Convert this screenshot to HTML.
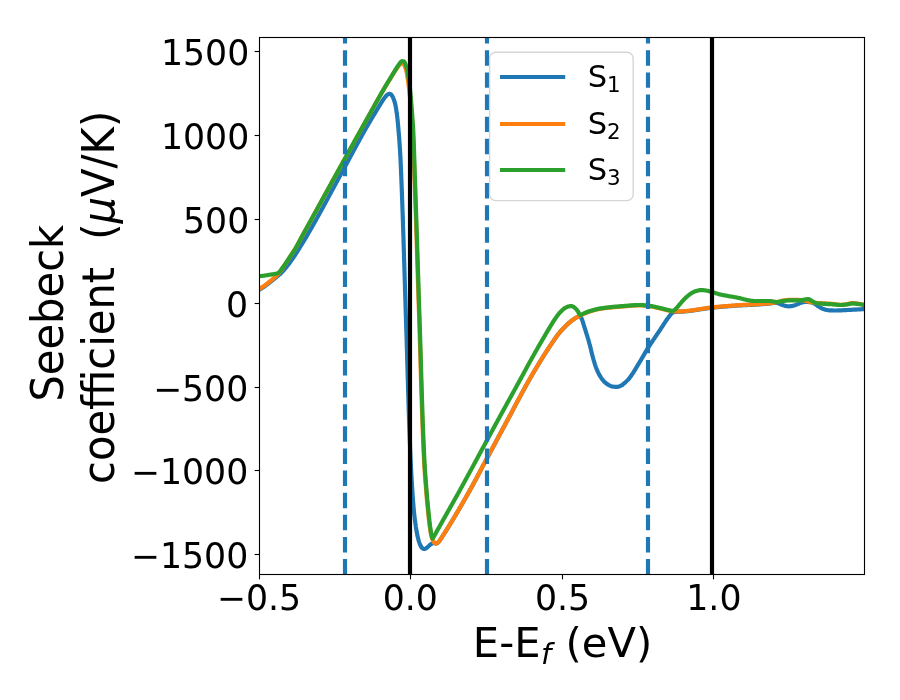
<!DOCTYPE html>
<html lang="en"><head><meta charset="utf-8"><title>Seebeck coefficient</title>
<style>html,body{margin:0;padding:0;background:#fff;overflow:hidden}svg{display:block}text{font-family:"DejaVu Sans","Liberation Sans",sans-serif;fill:#000}.t25{font-size:34.722px}.t30{font-size:41.667px}.t22{font-size:30.556px}.t21{font-size:29.167px;font-style:oblique}.t15{font-size:21.389px}.ob{font-style:oblique}</style></head><body>
<svg width="900" height="700" viewBox="0 0 900 700">
<rect width="900" height="700" fill="#fff"/>
<defs><clipPath id="ax"><rect x="259.5" y="37.5" width="605.0" height="537.0"/></clipPath></defs>
<g clip-path="url(#ax)" fill="none" stroke-width="4.167" stroke-linejoin="round" stroke-linecap="square">
<path d="M258.0 290.5 L258.6 290.1 L259.2 289.8 L259.8 289.4 L260.4 289.0 L261.0 288.7 L261.6 288.3 L262.2 287.9 L262.8 287.5 L263.3 287.1 L263.9 286.8 L264.5 286.4 L265.1 286.0 L265.6 285.5 L266.2 285.1 L266.8 284.7 L267.3 284.3 L267.9 283.9 L268.4 283.4 L269.0 283.0 L269.5 282.6 L270.1 282.1 L270.6 281.7 L271.2 281.3 L271.7 280.8 L272.3 280.4 L272.8 280.0 L273.4 279.5 L273.9 279.1 L274.5 278.6 L275.0 278.2 L275.5 277.8 L276.1 277.3 L276.6 276.9 L277.2 276.4 L277.7 276.0 L278.3 275.6 L278.8 275.1 L279.3 274.6 L279.9 274.2 L280.4 273.7 L280.9 273.2 L281.4 272.7 L281.9 272.2 L282.3 271.7 L282.8 271.2 L283.3 270.7 L283.8 270.2 L284.2 269.6 L284.7 269.1 L285.1 268.6 L285.6 268.0 L286.0 267.5 L286.5 267.0 L286.9 266.4 L287.4 265.9 L287.8 265.3 L288.2 264.8 L288.6 264.2 L289.1 263.6 L289.5 263.1 L289.9 262.5 L290.3 262.0 L290.7 261.4 L291.1 260.8 L291.5 260.2 L291.9 259.7 L292.3 259.1 L292.7 258.5 L293.1 257.9 L293.5 257.4 L293.9 256.8 L294.3 256.2 L294.7 255.6 L295.1 255.0 L295.5 254.4 L295.8 253.9 L296.2 253.3 L296.6 252.7 L297.0 252.1 L297.3 251.5 L297.7 250.9 L298.1 250.3 L298.5 249.7 L298.8 249.1 L299.2 248.5 L299.6 247.9 L299.9 247.3 L300.3 246.7 L300.7 246.1 L301.0 245.5 L301.4 244.9 L301.8 244.4 L302.1 243.8 L302.5 243.2 L302.9 242.6 L303.2 242.0 L303.6 241.4 L304.0 240.8 L304.3 240.2 L304.7 239.6 L305.0 239.0 L305.4 238.4 L305.8 237.8 L306.1 237.2 L306.5 236.6 L306.8 236.0 L307.2 235.4 L307.5 234.8 L307.9 234.1 L308.2 233.5 L308.6 232.9 L308.9 232.3 L309.3 231.7 L309.6 231.1 L310.0 230.5 L310.3 229.9 L310.7 229.3 L311.0 228.7 L311.4 228.1 L311.7 227.5 L312.1 226.9 L312.4 226.3 L312.8 225.6 L313.1 225.0 L313.5 224.4 L313.8 223.8 L314.1 223.2 L314.5 222.6 L314.8 222.0 L315.2 221.4 L315.5 220.8 L315.9 220.2 L316.2 219.5 L316.5 218.9 L316.9 218.3 L317.2 217.7 L317.6 217.1 L317.9 216.5 L318.2 215.9 L318.6 215.3 L318.9 214.6 L319.3 214.0 L319.6 213.4 L319.9 212.8 L320.3 212.2 L320.6 211.6 L320.9 211.0 L321.3 210.4 L321.6 209.7 L322.0 209.1 L322.3 208.5 L322.6 207.9 L323.0 207.3 L323.3 206.7 L323.6 206.0 L324.0 205.4 L324.3 204.8 L324.6 204.2 L325.0 203.6 L325.3 203.0 L325.6 202.4 L326.0 201.7 L326.3 201.1 L326.6 200.5 L327.0 199.9 L327.3 199.3 L327.6 198.7 L328.0 198.0 L328.3 197.4 L328.6 196.8 L329.0 196.2 L329.3 195.6 L329.6 195.0 L330.0 194.3 L330.3 193.7 L330.6 193.1 L331.0 192.5 L331.3 191.9 L331.6 191.3 L332.0 190.6 L332.3 190.0 L332.6 189.4 L333.0 188.8 L333.3 188.2 L333.6 187.6 L334.0 186.9 L334.3 186.3 L334.6 185.7 L335.0 185.1 L335.3 184.5 L335.6 183.9 L336.0 183.3 L336.3 182.6 L336.6 182.0 L337.0 181.4 L337.3 180.8 L337.6 180.2 L338.0 179.6 L338.3 178.9 L338.6 178.3 L339.0 177.7 L339.3 177.1 L339.6 176.5 L340.0 175.9 L340.3 175.2 L340.6 174.6 L341.0 174.0 L341.3 173.4 L341.6 172.8 L342.0 172.2 L342.3 171.5 L342.6 170.9 L343.0 170.3 L343.3 169.7 L343.6 169.1 L344.0 168.5 L344.3 167.9 L344.6 167.2 L345.0 166.6 L345.3 166.0 L345.7 165.4 L346.0 164.8 L346.3 164.2 L346.7 163.6 L347.0 162.9 L347.3 162.3 L347.7 161.7 L348.0 161.1 L348.3 160.5 L348.7 159.9 L349.0 159.2 L349.3 158.6 L349.7 158.0 L350.0 157.4 L350.3 156.8 L350.7 156.2 L351.0 155.5 L351.3 154.9 L351.7 154.3 L352.0 153.7 L352.3 153.1 L352.7 152.5 L353.0 151.8 L353.3 151.2 L353.7 150.6 L354.0 150.0 L354.3 149.4 L354.7 148.8 L355.0 148.2 L355.3 147.5 L355.7 146.9 L356.0 146.3 L356.3 145.7 L356.7 145.1 L357.0 144.5 L357.3 143.8 L357.7 143.2 L358.0 142.6 L358.3 142.0 L358.7 141.4 L359.0 140.8 L359.3 140.2 L359.7 139.5 L360.0 138.9 L360.3 138.3 L360.7 137.7 L361.0 137.1 L361.4 136.5 L361.7 135.9 L362.0 135.3 L362.4 134.6 L362.7 134.0 L363.1 133.4 L363.4 132.8 L363.8 132.2 L364.1 131.6 L364.4 131.0 L364.8 130.4 L365.1 129.8 L365.5 129.2 L365.8 128.5 L366.2 127.9 L366.5 127.3 L366.9 126.7 L367.2 126.1 L367.6 125.5 L367.9 124.9 L368.3 124.3 L368.6 123.7 L369.0 123.1 L369.3 122.5 L369.7 121.9 L370.1 121.3 L370.4 120.7 L370.8 120.1 L371.1 119.5 L371.5 118.9 L371.8 118.3 L372.2 117.7 L372.6 117.1 L372.9 116.5 L373.3 115.9 L373.6 115.3 L374.0 114.7 L374.4 114.1 L374.7 113.5 L375.1 112.9 L375.4 112.3 L375.8 111.7 L376.2 111.1 L376.5 110.5 L376.9 109.9 L377.2 109.3 L377.6 108.7 L378.0 108.1 L378.3 107.5 L378.7 106.9 L379.1 106.3 L379.4 105.7 L379.8 105.1 L380.2 104.5 L380.6 103.9 L380.9 103.3 L381.3 102.7 L381.7 102.1 L382.1 101.5 L382.4 100.9 L382.8 100.3 L383.2 99.8 L383.6 99.2 L384.0 98.6 L384.4 98.0 L384.8 97.5 L385.3 96.9 L385.7 96.4 L386.2 95.8 L386.7 95.3 L387.2 94.8 L387.7 94.5 L388.3 94.1 L389.0 93.8 L389.7 93.9 L390.4 94.1 L391.0 94.5 L391.5 94.9 L391.9 95.5 L392.3 96.1 L392.6 96.7 L392.9 97.3 L393.2 98.0 L393.5 98.6 L393.7 99.3 L394.0 100.0 L394.2 100.6 L394.4 101.3 L394.6 102.0 L394.8 102.6 L395.0 103.3 L395.2 104.0 L395.3 104.7 L395.5 105.4 L395.6 106.0 L395.7 106.7 L395.9 107.4 L396.0 108.1 L396.1 108.8 L396.2 109.5 L396.3 110.2 L396.4 110.9 L396.5 111.6 L396.6 112.3 L396.7 113.0 L396.8 113.7 L396.9 114.3 L397.0 115.0 L397.1 115.7 L397.2 116.4 L397.3 117.1 L397.3 117.8 L397.4 118.5 L397.5 119.2 L397.6 119.9 L397.6 120.6 L397.7 121.3 L397.8 122.0 L397.8 122.7 L397.9 123.4 L398.0 124.1 L398.0 124.8 L398.1 125.5 L398.2 126.2 L398.2 126.9 L398.3 127.6 L398.4 128.3 L398.4 129.0 L398.5 129.7 L398.5 130.4 L398.6 131.1 L398.7 131.8 L398.7 132.5 L398.8 133.2 L398.8 133.9 L398.9 134.6 L398.9 135.3 L399.0 136.0 L399.1 136.7 L399.1 137.3 L399.2 138.0 L399.2 138.7 L399.3 139.4 L399.3 140.1 L399.4 140.8 L399.4 141.5 L399.5 142.2 L399.5 142.9 L399.6 143.6 L399.6 144.3 L399.7 145.0 L399.7 145.7 L399.8 146.4 L399.8 147.1 L399.9 147.8 L399.9 148.5 L400.0 149.2 L400.0 149.9 L400.0 150.6 L400.1 151.3 L400.1 152.0 L400.2 152.7 L400.2 153.4 L400.2 154.1 L400.3 154.8 L400.3 155.5 L400.3 156.2 L400.4 156.9 L400.4 157.6 L400.5 158.3 L400.5 159.0 L400.5 159.7 L400.6 160.4 L400.6 161.1 L400.6 161.8 L400.7 162.5 L400.7 163.2 L400.7 163.9 L400.8 164.6 L400.8 165.3 L400.8 166.0 L400.8 166.7 L400.9 167.4 L400.9 168.1 L400.9 168.8 L401.0 169.5 L401.0 170.2 L401.0 170.9 L401.1 171.6 L401.1 172.3 L401.1 173.0 L401.1 173.7 L401.2 174.4 L401.2 175.1 L401.2 175.8 L401.3 176.5 L401.3 177.2 L401.3 177.9 L401.3 178.6 L401.4 179.3 L401.4 180.0 L401.4 180.7 L401.5 181.4 L401.5 182.1 L401.5 182.8 L401.5 183.5 L401.6 184.2 L401.6 184.9 L401.6 185.6 L401.6 186.3 L401.7 187.0 L401.7 187.7 L401.7 188.4 L401.8 189.1 L401.8 189.8 L401.8 190.5 L401.8 191.2 L401.9 191.9 L401.9 192.6 L401.9 193.3 L401.9 194.0 L402.0 194.7 L402.0 195.4 L402.0 196.1 L402.0 196.8 L402.1 197.5 L402.1 198.2 L402.1 198.9 L402.1 199.6 L402.2 200.3 L402.2 201.0 L402.2 201.7 L402.2 202.4 L402.3 203.1 L402.3 203.8 L402.3 204.5 L402.3 205.2 L402.4 205.9 L402.4 206.6 L402.4 207.3 L402.4 208.0 L402.5 208.7 L402.5 209.4 L402.5 210.1 L402.5 210.8 L402.6 211.5 L402.6 212.2 L402.6 212.9 L402.6 213.6 L402.7 214.3 L402.7 215.0 L402.7 215.7 L402.7 216.4 L402.8 217.1 L402.8 217.8 L402.8 218.5 L402.8 219.2 L402.9 219.9 L402.9 220.6 L402.9 221.3 L402.9 222.0 L403.0 222.7 L403.0 223.4 L403.0 224.1 L403.0 224.8 L403.0 225.5 L403.1 226.2 L403.1 226.9 L403.1 227.6 L403.1 228.3 L403.2 229.0 L403.2 229.7 L403.2 230.4 L403.2 231.1 L403.2 231.8 L403.3 232.5 L403.3 233.2 L403.3 233.9 L403.3 234.6 L403.4 235.3 L403.4 236.0 L403.4 236.7 L403.4 237.4 L403.5 238.1 L403.5 238.8 L403.5 239.5 L403.5 240.2 L403.5 240.9 L403.6 241.6 L403.6 242.3 L403.6 243.0 L403.6 243.7 L403.7 244.4 L403.7 245.1 L403.7 245.8 L403.7 246.5 L403.7 247.2 L403.8 247.9 L403.8 248.6 L403.8 249.3 L403.8 250.0 L403.8 250.7 L403.9 251.4 L403.9 252.1 L403.9 252.8 L403.9 253.5 L404.0 254.2 L404.0 254.9 L404.0 255.6 L404.0 256.3 L404.0 257.0 L404.1 257.7 L404.1 258.4 L404.1 259.1 L404.1 259.8 L404.1 260.5 L404.2 261.2 L404.2 261.9 L404.2 262.6 L404.2 263.3 L404.3 264.0 L404.3 264.7 L404.3 265.4 L404.3 266.1 L404.3 266.8 L404.4 267.5 L404.4 268.2 L404.4 268.9 L404.4 269.6 L404.4 270.3 L404.5 271.0 L404.5 271.7 L404.5 272.4 L404.5 273.1 L404.6 273.8 L404.6 274.5 L404.6 275.2 L404.6 275.9 L404.6 276.6 L404.7 277.3 L404.7 278.0 L404.7 278.7 L404.7 279.4 L404.7 280.1 L404.8 280.8 L404.8 281.5 L404.8 282.2 L404.8 282.9 L404.9 283.6 L404.9 284.3 L404.9 285.0 L404.9 285.7 L404.9 286.4 L405.0 287.1 L405.0 287.8 L405.0 288.5 L405.0 289.2 L405.0 289.9 L405.1 290.6 L405.1 291.3 L405.1 292.0 L405.1 292.7 L405.2 293.4 L405.2 294.1 L405.2 294.8 L405.2 295.5 L405.2 296.2 L405.3 296.9 L405.3 297.6 L405.3 298.3 L405.3 299.0 L405.4 299.7 L405.4 300.4 L405.4 301.1 L405.4 301.8 L405.4 302.5 L405.5 303.2 L405.5 303.9 L405.5 304.6 L405.5 305.3 L405.5 306.0 L405.6 306.7 L405.6 307.4 L405.6 308.1 L405.6 308.8 L405.7 309.5 L405.7 310.2 L405.7 310.9 L405.7 311.6 L405.7 312.3 L405.8 313.0 L405.8 313.7 L405.8 314.4 L405.8 315.1 L405.9 315.8 L405.9 316.5 L405.9 317.2 L405.9 317.9 L406.0 318.6 L406.0 319.3 L406.0 320.0 L406.0 320.7 L406.0 321.4 L406.1 322.1 L406.1 322.8 L406.1 323.5 L406.1 324.2 L406.2 324.9 L406.2 325.6 L406.2 326.3 L406.2 327.0 L406.2 327.7 L406.3 328.4 L406.3 329.1 L406.3 329.8 L406.3 330.5 L406.4 331.2 L406.4 331.9 L406.4 332.6 L406.4 333.3 L406.4 334.0 L406.5 334.7 L406.5 335.4 L406.5 336.1 L406.5 336.8 L406.6 337.5 L406.6 338.2 L406.6 338.9 L406.6 339.6 L406.6 340.3 L406.7 341.0 L406.7 341.7 L406.7 342.4 L406.7 343.1 L406.7 343.8 L406.8 344.5 L406.8 345.2 L406.8 345.9 L406.8 346.6 L406.8 347.3 L406.9 348.0 L406.9 348.7 L406.9 349.4 L406.9 350.1 L407.0 350.8 L407.0 351.5 L407.0 352.2 L407.0 352.9 L407.0 353.6 L407.1 354.3 L407.1 355.0 L407.1 355.7 L407.1 356.4 L407.1 357.1 L407.2 357.8 L407.2 358.5 L407.2 359.2 L407.2 359.9 L407.2 360.6 L407.3 361.3 L407.3 362.0 L407.3 362.7 L407.3 363.4 L407.3 364.1 L407.4 364.8 L407.4 365.5 L407.4 366.2 L407.4 366.9 L407.4 367.6 L407.5 368.3 L407.5 369.0 L407.5 369.7 L407.5 370.4 L407.5 371.1 L407.6 371.8 L407.6 372.5 L407.6 373.2 L407.6 373.9 L407.6 374.6 L407.7 375.3 L407.7 376.0 L407.7 376.7 L407.7 377.4 L407.7 378.1 L407.8 378.8 L407.8 379.5 L407.8 380.2 L407.8 380.9 L407.9 381.6 L407.9 382.3 L407.9 383.0 L407.9 383.7 L407.9 384.4 L408.0 385.1 L408.0 385.8 L408.0 386.5 L408.0 387.2 L408.0 387.9 L408.1 388.6 L408.1 389.3 L408.1 390.0 L408.1 390.7 L408.1 391.4 L408.2 392.1 L408.2 392.8 L408.2 393.5 L408.2 394.2 L408.3 394.9 L408.3 395.6 L408.3 396.3 L408.3 397.0 L408.3 397.7 L408.4 398.4 L408.4 399.1 L408.4 399.8 L408.4 400.5 L408.4 401.2 L408.5 401.9 L408.5 402.6 L408.5 403.3 L408.5 404.0 L408.6 404.7 L408.6 405.4 L408.6 406.1 L408.6 406.8 L408.6 407.5 L408.7 408.2 L408.7 408.9 L408.7 409.6 L408.7 410.3 L408.8 411.0 L408.8 411.7 L408.8 412.4 L408.8 413.1 L408.8 413.8 L408.9 414.5 L408.9 415.2 L408.9 415.9 L408.9 416.6 L409.0 417.3 L409.0 418.0 L409.0 418.7 L409.0 419.4 L409.1 420.1 L409.1 420.8 L409.1 421.5 L409.1 422.2 L409.2 422.9 L409.2 423.6 L409.2 424.3 L409.2 425.0 L409.3 425.7 L409.3 426.4 L409.3 427.1 L409.3 427.8 L409.4 428.5 L409.4 429.2 L409.4 429.9 L409.4 430.6 L409.5 431.3 L409.5 432.0 L409.5 432.7 L409.5 433.4 L409.6 434.1 L409.6 434.8 L409.6 435.5 L409.6 436.2 L409.7 436.9 L409.7 437.6 L409.7 438.3 L409.7 439.0 L409.8 439.7 L409.8 440.4 L409.8 441.1 L409.8 441.8 L409.9 442.5 L409.9 443.2 L409.9 443.9 L410.0 444.6 L410.0 445.3 L410.0 446.0 L410.0 446.7 L410.1 447.4 L410.1 448.1 L410.1 448.8 L410.2 449.5 L410.2 450.2 L410.2 450.9 L410.2 451.6 L410.3 452.3 L410.3 453.0 L410.3 453.7 L410.4 454.4 L410.4 455.1 L410.4 455.8 L410.4 456.5 L410.5 457.2 L410.5 457.9 L410.5 458.6 L410.6 459.3 L410.6 460.0 L410.6 460.7 L410.7 461.4 L410.7 462.1 L410.7 462.8 L410.8 463.5 L410.8 464.2 L410.8 464.9 L410.9 465.6 L410.9 466.3 L410.9 467.0 L411.0 467.7 L411.0 468.4 L411.0 469.1 L411.1 469.7 L411.1 470.4 L411.2 471.1 L411.2 471.8 L411.2 472.5 L411.3 473.2 L411.3 473.9 L411.3 474.6 L411.4 475.3 L411.4 476.0 L411.5 476.7 L411.5 477.4 L411.6 478.1 L411.6 478.8 L411.6 479.5 L411.7 480.2 L411.7 480.9 L411.8 481.6 L411.8 482.3 L411.9 483.0 L411.9 483.7 L411.9 484.4 L412.0 485.1 L412.0 485.8 L412.1 486.5 L412.1 487.2 L412.2 487.9 L412.2 488.6 L412.3 489.3 L412.3 490.0 L412.3 490.7 L412.4 491.4 L412.4 492.1 L412.5 492.8 L412.5 493.5 L412.6 494.2 L412.6 494.9 L412.7 495.6 L412.7 496.3 L412.8 497.0 L412.8 497.7 L412.9 498.4 L412.9 499.1 L413.0 499.8 L413.0 500.5 L413.1 501.2 L413.1 501.9 L413.2 502.6 L413.2 503.3 L413.3 504.0 L413.4 504.7 L413.4 505.4 L413.5 506.1 L413.5 506.8 L413.6 507.5 L413.6 508.2 L413.7 508.9 L413.8 509.6 L413.8 510.3 L413.9 511.0 L414.0 511.7 L414.0 512.4 L414.1 513.1 L414.2 513.8 L414.3 514.5 L414.3 515.1 L414.4 515.8 L414.5 516.5 L414.6 517.2 L414.6 517.9 L414.7 518.6 L414.8 519.3 L414.9 520.0 L415.0 520.7 L415.1 521.4 L415.2 522.1 L415.3 522.8 L415.4 523.5 L415.5 524.2 L415.6 524.9 L415.7 525.6 L415.8 526.3 L415.9 527.0 L416.0 527.6 L416.1 528.3 L416.2 529.0 L416.3 529.7 L416.5 530.4 L416.6 531.1 L416.7 531.8 L416.8 532.5 L417.0 533.2 L417.1 533.9 L417.2 534.6 L417.4 535.2 L417.5 535.9 L417.7 536.6 L417.8 537.3 L418.0 538.0 L418.2 538.6 L418.3 539.3 L418.5 540.0 L418.7 540.7 L418.9 541.4 L419.1 542.0 L419.4 542.7 L419.6 543.4 L419.8 544.0 L420.1 544.7 L420.4 545.3 L420.7 545.9 L421.1 546.6 L421.4 547.2 L421.9 547.7 L422.4 548.2 L422.9 548.6 L423.6 548.9 L424.3 549.0 L424.9 548.9 L425.6 548.6 L426.2 548.2 L426.8 547.8 L427.3 547.4 L427.9 546.9 L428.4 546.4 L428.9 545.9 L429.4 545.4 L429.9 545.0 L430.5 544.5 L431.0 544.1 L431.6 543.7 L432.3 543.4 L432.9 543.2 L433.6 543.0 L434.3 543.0 L435.0 543.3 L435.7 543.5 L436.3 543.6 L437.0 543.3 L437.6 542.9 L438.1 542.5 L438.6 542.0 L439.1 541.5 L439.5 540.9 L439.9 540.3 L440.3 539.7 L440.7 539.1 L441.1 538.6 L441.5 538.0 L441.9 537.4 L442.2 536.8 L442.6 536.2 L443.0 535.6 L443.4 535.0 L443.7 534.4 L444.1 533.8 L444.5 533.2 L444.9 532.7 L445.2 532.1 L445.6 531.5 L446.0 530.9 L446.4 530.3 L446.7 529.7 L447.1 529.1 L447.5 528.5 L447.8 527.9 L448.2 527.3 L448.6 526.7 L448.9 526.1 L449.3 525.5 L449.7 524.9 L450.0 524.3 L450.4 523.7 L450.8 523.1 L451.1 522.5 L451.5 521.9 L451.9 521.3 L452.2 520.7 L452.6 520.1 L452.9 519.5 L453.3 518.9 L453.7 518.3 L454.0 517.7 L454.4 517.1 L454.7 516.5 L455.1 515.9 L455.5 515.3 L455.8 514.7 L456.2 514.1 L456.5 513.5 L456.9 512.9 L457.3 512.3 L457.6 511.7 L458.0 511.1 L458.3 510.5 L458.7 509.9 L459.0 509.3 L459.4 508.7 L459.7 508.1 L460.1 507.5 L460.4 506.9 L460.8 506.3 L461.1 505.7 L461.5 505.1 L461.8 504.4 L462.2 503.8 L462.5 503.2 L462.9 502.6 L463.2 502.0 L463.6 501.4 L463.9 500.8 L464.3 500.2 L464.6 499.6 L465.0 499.0 L465.3 498.4 L465.7 497.8 L466.0 497.2 L466.4 496.5 L466.7 495.9 L467.1 495.3 L467.4 494.7 L467.7 494.1 L468.1 493.5 L468.4 492.9 L468.8 492.3 L469.1 491.7 L469.5 491.1 L469.8 490.4 L470.1 489.8 L470.5 489.2 L470.8 488.6 L471.2 488.0 L471.5 487.4 L471.8 486.8 L472.2 486.2 L472.5 485.6 L472.9 484.9 L473.2 484.3 L473.5 483.7 L473.9 483.1 L474.2 482.5 L474.5 481.9 L474.8 481.2 L475.2 480.6 L475.5 480.0 L475.8 479.4 L476.2 478.8 L476.5 478.2 L476.8 477.5 L477.2 476.9 L477.5 476.3 L477.8 475.7 L478.1 475.1 L478.5 474.4 L478.8 473.8 L479.1 473.2 L479.4 472.6 L479.8 472.0 L480.1 471.3 L480.4 470.7 L480.8 470.1 L481.1 469.5 L481.4 468.9 L481.7 468.2 L482.1 467.6 L482.4 467.0 L482.7 466.4 L483.0 465.8 L483.4 465.1 L483.7 464.5 L484.0 463.9 L484.4 463.3 L484.7 462.7 L485.0 462.1 L485.4 461.4 L485.7 460.8 L486.0 460.2 L486.3 459.6 L486.7 459.0 L487.0 458.4 L487.3 457.7 L487.7 457.1 L488.0 456.5 L488.3 455.9 L488.7 455.3 L489.0 454.7 L489.3 454.0 L489.7 453.4 L490.0 452.8 L490.3 452.2 L490.6 451.6 L491.0 451.0 L491.3 450.3 L491.6 449.7 L492.0 449.1 L492.3 448.5 L492.6 447.9 L493.0 447.2 L493.3 446.6 L493.6 446.0 L494.0 445.4 L494.3 444.8 L494.6 444.2 L494.9 443.5 L495.3 442.9 L495.6 442.3 L495.9 441.7 L496.3 441.1 L496.6 440.5 L496.9 439.8 L497.3 439.2 L497.6 438.6 L497.9 438.0 L498.3 437.4 L498.6 436.8 L498.9 436.1 L499.3 435.5 L499.6 434.9 L499.9 434.3 L500.2 433.7 L500.6 433.1 L500.9 432.4 L501.2 431.8 L501.6 431.2 L501.9 430.6 L502.2 430.0 L502.6 429.4 L502.9 428.7 L503.2 428.1 L503.6 427.5 L503.9 426.9 L504.2 426.3 L504.6 425.7 L504.9 425.0 L505.2 424.4 L505.5 423.8 L505.9 423.2 L506.2 422.6 L506.5 422.0 L506.9 421.3 L507.2 420.7 L507.5 420.1 L507.9 419.5 L508.2 418.9 L508.5 418.2 L508.9 417.6 L509.2 417.0 L509.5 416.4 L509.8 415.8 L510.2 415.2 L510.5 414.5 L510.8 413.9 L511.2 413.3 L511.5 412.7 L511.8 412.1 L512.1 411.4 L512.5 410.8 L512.8 410.2 L513.1 409.6 L513.5 409.0 L513.8 408.3 L514.1 407.7 L514.4 407.1 L514.8 406.5 L515.1 405.9 L515.4 405.3 L515.8 404.6 L516.1 404.0 L516.4 403.4 L516.7 402.8 L517.1 402.2 L517.4 401.5 L517.7 400.9 L518.1 400.3 L518.4 399.7 L518.7 399.1 L519.0 398.5 L519.4 397.8 L519.7 397.2 L520.0 396.6 L520.4 396.0 L520.7 395.4 L521.0 394.7 L521.4 394.1 L521.7 393.5 L522.0 392.9 L522.4 392.3 L522.7 391.7 L523.0 391.1 L523.4 390.4 L523.7 389.8 L524.0 389.2 L524.4 388.6 L524.7 388.0 L525.1 387.4 L525.4 386.8 L525.7 386.1 L526.1 385.5 L526.4 384.9 L526.8 384.3 L527.1 383.7 L527.4 383.1 L527.8 382.5 L528.1 381.9 L528.5 381.3 L528.8 380.7 L529.2 380.1 L529.5 379.4 L529.9 378.8 L530.2 378.2 L530.6 377.6 L530.9 377.0 L531.3 376.4 L531.6 375.8 L532.0 375.2 L532.3 374.6 L532.7 374.0 L533.0 373.4 L533.4 372.8 L533.7 372.2 L534.1 371.6 L534.4 371.0 L534.8 370.4 L535.2 369.8 L535.5 369.2 L535.9 368.6 L536.2 368.0 L536.6 367.4 L536.9 366.8 L537.3 366.2 L537.7 365.6 L538.0 365.0 L538.4 364.4 L538.8 363.8 L539.1 363.2 L539.5 362.6 L539.9 362.0 L540.2 361.4 L540.6 360.8 L541.0 360.2 L541.3 359.6 L541.7 359.0 L542.1 358.4 L542.4 357.8 L542.8 357.2 L543.2 356.6 L543.5 356.0 L543.9 355.4 L544.3 354.8 L544.7 354.2 L545.0 353.6 L545.4 353.1 L545.8 352.5 L546.2 351.9 L546.6 351.3 L546.9 350.7 L547.3 350.1 L547.7 349.5 L548.1 348.9 L548.5 348.4 L548.9 347.8 L549.3 347.2 L549.7 346.6 L550.0 346.0 L550.4 345.5 L550.8 344.9 L551.2 344.3 L551.6 343.7 L552.0 343.1 L552.4 342.5 L552.8 342.0 L553.2 341.4 L553.6 340.8 L554.0 340.2 L554.4 339.6 L554.8 339.0 L555.2 338.5 L555.6 337.9 L556.0 337.3 L556.4 336.8 L556.8 336.2 L557.2 335.6 L557.6 335.1 L558.1 334.5 L558.5 334.0 L558.9 333.4 L559.4 332.9 L559.8 332.3 L560.2 331.8 L560.7 331.3 L561.2 330.8 L561.6 330.2 L562.1 329.7 L562.6 329.2 L563.0 328.7 L563.5 328.2 L564.0 327.7 L564.5 327.2 L565.0 326.7 L565.5 326.2 L566.0 325.7 L566.5 325.2 L567.0 324.7 L567.6 324.2 L568.1 323.8 L568.6 323.3 L569.1 322.8 L569.7 322.4 L570.2 321.9 L570.7 321.5 L571.3 321.1 L571.8 320.6 L572.4 320.2 L572.9 319.8 L573.5 319.4 L574.1 319.0 L574.7 318.6 L575.3 318.2 L575.9 317.8 L576.5 317.4 L577.2 316.9 L577.8 316.6 L578.5 316.2 L579.1 316.1 L579.6 316.0 L580.1 316.3 L580.6 316.9 L581.1 317.6 L581.4 318.2 L581.7 318.8 L582.0 319.4 L582.2 320.1 L582.4 320.8 L582.7 321.5 L582.9 322.1 L583.1 322.8 L583.3 323.5 L583.5 324.1 L583.7 324.8 L583.9 325.5 L584.1 326.2 L584.3 326.8 L584.5 327.5 L584.8 328.2 L585.0 328.8 L585.2 329.5 L585.4 330.2 L585.6 330.8 L585.8 331.5 L586.0 332.2 L586.2 332.8 L586.4 333.5 L586.6 334.2 L586.9 334.8 L587.1 335.5 L587.3 336.2 L587.5 336.9 L587.7 337.5 L587.9 338.2 L588.1 338.9 L588.3 339.5 L588.5 340.2 L588.7 340.9 L588.9 341.6 L589.1 342.2 L589.2 342.9 L589.4 343.6 L589.6 344.3 L589.8 344.9 L590.0 345.6 L590.1 346.3 L590.3 347.0 L590.5 347.6 L590.6 348.3 L590.8 349.0 L591.0 349.7 L591.1 350.4 L591.3 351.1 L591.5 351.7 L591.6 352.4 L591.8 353.1 L592.0 353.8 L592.1 354.5 L592.3 355.1 L592.5 355.8 L592.7 356.5 L592.8 357.2 L593.0 357.8 L593.2 358.5 L593.4 359.2 L593.6 359.9 L593.8 360.5 L594.0 361.2 L594.2 361.9 L594.4 362.5 L594.6 363.2 L594.8 363.9 L595.0 364.6 L595.2 365.2 L595.5 365.9 L595.7 366.6 L595.9 367.2 L596.2 367.9 L596.4 368.5 L596.7 369.2 L596.9 369.8 L597.2 370.5 L597.5 371.1 L597.8 371.7 L598.1 372.4 L598.4 373.0 L598.7 373.6 L599.0 374.3 L599.4 374.9 L599.7 375.5 L600.1 376.1 L600.5 376.7 L600.8 377.3 L601.2 377.8 L601.6 378.4 L602.0 379.0 L602.5 379.5 L602.9 380.1 L603.4 380.6 L603.8 381.2 L604.3 381.7 L604.8 382.2 L605.3 382.6 L605.9 383.1 L606.4 383.5 L607.0 384.0 L607.6 384.4 L608.2 384.7 L608.8 385.1 L609.4 385.4 L610.0 385.7 L610.7 386.0 L611.3 386.2 L612.0 386.4 L612.7 386.6 L613.4 386.7 L614.1 386.7 L614.8 386.8 L615.5 386.8 L616.2 386.8 L616.9 386.8 L617.6 386.8 L618.3 386.7 L619.0 386.5 L619.6 386.3 L620.3 386.0 L620.9 385.7 L621.5 385.4 L622.1 385.1 L622.7 384.6 L623.2 384.2 L623.8 383.7 L624.3 383.2 L624.8 382.8 L625.4 382.3 L625.9 381.9 L626.4 381.4 L626.9 380.9 L627.4 380.4 L627.9 379.9 L628.4 379.4 L628.8 378.9 L629.3 378.3 L629.7 377.8 L630.1 377.2 L630.5 376.6 L630.9 376.1 L631.3 375.5 L631.7 374.9 L632.1 374.3 L632.5 373.7 L632.9 373.2 L633.3 372.6 L633.7 372.0 L634.0 371.4 L634.4 370.8 L634.8 370.2 L635.1 369.6 L635.5 369.0 L635.9 368.4 L636.2 367.8 L636.6 367.2 L636.9 366.6 L637.3 366.0 L637.7 365.4 L638.0 364.8 L638.4 364.2 L638.7 363.6 L639.1 363.0 L639.5 362.4 L639.8 361.8 L640.2 361.2 L640.5 360.6 L640.9 360.0 L641.3 359.4 L641.6 358.8 L642.0 358.2 L642.3 357.6 L642.7 357.0 L643.0 356.4 L643.4 355.8 L643.7 355.2 L644.1 354.6 L644.4 353.9 L644.8 353.3 L645.1 352.7 L645.5 352.1 L645.8 351.5 L646.2 350.9 L646.6 350.3 L646.9 349.7 L647.3 349.1 L647.7 348.5 L648.0 347.9 L648.4 347.4 L648.8 346.8 L649.2 346.2 L649.5 345.6 L649.9 345.0 L650.3 344.4 L650.7 343.8 L651.1 343.2 L651.5 342.7 L651.8 342.1 L652.2 341.5 L652.6 340.9 L653.0 340.3 L653.4 339.7 L653.8 339.2 L654.2 338.6 L654.6 338.0 L655.0 337.4 L655.4 336.8 L655.8 336.3 L656.2 335.7 L656.5 335.1 L656.9 334.5 L657.3 334.0 L657.7 333.4 L658.1 332.8 L658.5 332.2 L658.9 331.6 L659.3 331.0 L659.7 330.5 L660.1 329.9 L660.5 329.3 L660.8 328.7 L661.2 328.1 L661.6 327.5 L662.0 327.0 L662.4 326.4 L662.8 325.8 L663.1 325.2 L663.5 324.6 L663.9 324.0 L664.3 323.4 L664.7 322.8 L665.0 322.3 L665.4 321.7 L665.8 321.1 L666.2 320.5 L666.6 319.9 L667.0 319.4 L667.4 318.8 L667.8 318.2 L668.2 317.7 L668.7 317.1 L669.1 316.5 L669.5 316.0 L669.9 315.4 L670.4 314.9 L670.8 314.4 L671.3 313.9 L671.9 313.3 L672.4 312.8 L673.0 312.4 L673.6 312.2 L674.2 312.0 L674.9 311.9 L675.6 311.8 L676.3 311.8 L677.0 311.8 L677.7 311.7 L678.4 311.7 L679.1 311.7 L679.9 311.7 L680.5 311.7 L681.2 311.6 L681.9 311.6 L682.6 311.6 L683.3 311.5 L684.0 311.5 L684.7 311.4 L685.4 311.3 L686.1 311.3 L686.8 311.2 L687.5 311.2 L688.2 311.1 L688.9 311.0 L689.6 310.9 L690.3 310.9 L691.0 310.8 L691.7 310.7 L692.4 310.6 L693.1 310.5 L693.8 310.4 L694.5 310.3 L695.2 310.2 L695.9 310.1 L696.6 309.9 L697.2 309.8 L697.9 309.7 L698.6 309.6 L699.3 309.5 L700.0 309.4 L700.7 309.3 L701.4 309.2 L702.1 309.1 L702.8 309.0 L703.5 308.9 L704.2 308.8 L704.9 308.7 L705.6 308.6 L706.3 308.5 L706.9 308.4 L707.6 308.3 L708.3 308.2 L709.0 308.1 L709.7 308.0 L710.4 307.9 L711.1 307.9 L711.8 307.8 L712.5 307.7 L713.2 307.6 L713.9 307.5 L714.6 307.5 L715.3 307.4 L716.0 307.3 L716.7 307.2 L717.4 307.2 L718.1 307.1 L718.8 307.0 L719.5 307.0 L720.2 306.9 L720.9 306.8 L721.6 306.8 L722.3 306.7 L723.0 306.6 L723.7 306.6 L724.3 306.5 L725.0 306.5 L725.7 306.4 L726.4 306.4 L727.1 306.3 L727.8 306.3 L728.5 306.2 L729.2 306.2 L729.9 306.1 L730.6 306.1 L731.3 306.0 L732.0 305.9 L732.7 305.9 L733.4 305.8 L734.1 305.8 L734.8 305.7 L735.5 305.7 L736.2 305.6 L736.9 305.6 L737.6 305.5 L738.3 305.5 L739.0 305.5 L739.7 305.4 L740.4 305.4 L741.1 305.3 L741.8 305.3 L742.5 305.3 L743.2 305.2 L743.9 305.2 L744.6 305.2 L745.3 305.1 L746.0 305.1 L746.7 305.1 L747.4 305.0 L748.1 305.0 L748.8 305.0 L749.5 304.9 L750.2 304.9 L750.9 304.9 L751.6 304.9 L752.3 304.8 L753.0 304.8 L753.7 304.7 L754.4 304.7 L755.1 304.7 L755.8 304.6 L756.5 304.6 L757.2 304.5 L757.9 304.5 L758.6 304.4 L759.3 304.4 L760.0 304.3 L760.7 304.3 L761.4 304.2 L762.1 304.2 L762.8 304.1 L763.5 304.1 L764.2 304.0 L764.9 304.0 L765.6 303.9 L766.3 303.8 L767.0 303.8 L767.7 303.7 L768.4 303.7 L769.1 303.6 L769.8 303.5 L770.5 303.4 L771.2 303.3 L771.9 303.2 L772.6 303.1 L773.3 303.0 L774.0 302.9 L774.7 302.9 L775.3 302.8 L776.0 302.8 L776.7 302.8 L777.4 303.0 L778.0 303.2 L778.7 303.4 L779.3 303.7 L780.0 304.0 L780.7 304.3 L781.3 304.6 L782.0 304.8 L782.6 305.1 L783.3 305.3 L784.0 305.5 L784.7 305.7 L785.3 305.9 L786.0 306.0 L786.7 306.1 L787.4 306.2 L788.1 306.3 L788.8 306.3 L789.5 306.3 L790.2 306.2 L790.9 306.2 L791.6 306.1 L792.3 306.0 L793.0 305.8 L793.7 305.6 L794.3 305.4 L795.0 305.2 L795.7 305.0 L796.3 304.7 L797.0 304.5 L797.6 304.2 L798.3 303.9 L798.9 303.6 L799.5 303.3 L800.2 303.1 L800.9 302.8 L801.5 302.6 L802.2 302.5 L802.9 302.3 L803.6 302.1 L804.2 302.0 L804.9 301.9 L805.6 301.8 L806.3 301.8 L807.0 301.8 L807.7 301.9 L808.4 302.0 L809.1 302.1 L809.8 302.2 L810.5 302.3 L811.2 302.4 L811.9 302.6 L812.5 302.8 L813.2 303.0 L813.8 303.3 L814.5 303.7 L815.1 304.0 L815.7 304.4 L816.2 304.8 L816.8 305.2 L817.4 305.7 L817.9 306.1 L818.5 306.4 L819.1 306.8 L819.7 307.2 L820.3 307.5 L820.9 307.9 L821.5 308.2 L822.2 308.5 L822.8 308.8 L823.4 309.1 L824.1 309.3 L824.8 309.5 L825.4 309.7 L826.1 309.8 L826.8 310.0 L827.5 310.1 L828.2 310.2 L828.9 310.3 L829.6 310.3 L830.3 310.3 L831.0 310.4 L831.7 310.4 L832.4 310.4 L833.1 310.5 L833.8 310.5 L834.5 310.5 L835.2 310.5 L835.9 310.5 L836.6 310.5 L837.3 310.5 L838.0 310.4 L838.7 310.4 L839.4 310.4 L840.1 310.3 L840.8 310.3 L841.5 310.3 L842.2 310.3 L842.9 310.2 L843.6 310.2 L844.3 310.2 L845.0 310.1 L845.7 310.1 L846.4 310.1 L847.1 310.0 L847.8 310.0 L848.5 310.0 L849.2 309.9 L849.9 309.9 L850.6 309.8 L851.3 309.8 L852.0 309.8 L852.7 309.7 L853.4 309.7 L854.1 309.7 L854.8 309.6 L855.5 309.6 L856.2 309.6 L856.9 309.5 L857.6 309.5 L858.3 309.4 L859.0 309.4 L859.7 309.4 L860.4 309.3 L861.1 309.3 L861.8 309.2 L862.5 309.2 L863.2 309.2 L863.9 309.2 L864.6 309.2 L865.3 309.2 L866.0 309.2" stroke="#1f77b4"/>
<path d="M258.0 289.7 L258.6 289.3 L259.2 289.0 L259.8 288.6 L260.4 288.2 L261.0 287.9 L261.6 287.5 L262.2 287.1 L262.8 286.7 L263.3 286.3 L263.9 286.0 L264.5 285.6 L265.1 285.2 L265.6 284.7 L266.2 284.3 L266.7 283.9 L267.3 283.5 L267.8 283.0 L268.4 282.6 L268.9 282.2 L269.5 281.7 L270.0 281.3 L270.6 280.8 L271.1 280.4 L271.7 280.0 L272.2 279.5 L272.7 279.1 L273.3 278.6 L273.8 278.2 L274.3 277.7 L274.9 277.2 L275.4 276.8 L275.9 276.3 L276.4 275.8 L276.9 275.3 L277.4 274.8 L277.9 274.3 L278.4 273.8 L278.9 273.3 L279.3 272.8 L279.8 272.3 L280.2 271.7 L280.6 271.2 L281.0 270.6 L281.4 270.0 L281.8 269.4 L282.2 268.8 L282.6 268.2 L282.9 267.6 L283.3 267.0 L283.7 266.5 L284.1 265.9 L284.5 265.3 L284.9 264.7 L285.3 264.1 L285.7 263.6 L286.1 263.0 L286.5 262.4 L286.8 261.8 L287.2 261.2 L287.6 260.6 L288.0 260.1 L288.4 259.5 L288.7 258.9 L289.1 258.3 L289.5 257.7 L289.9 257.1 L290.2 256.5 L290.6 255.9 L291.0 255.3 L291.4 254.8 L291.8 254.2 L292.2 253.6 L292.6 253.0 L293.0 252.4 L293.4 251.9 L293.8 251.3 L294.1 250.7 L294.5 250.1 L294.9 249.5 L295.2 248.9 L295.6 248.3 L295.9 247.7 L296.3 247.1 L296.6 246.5 L297.0 245.9 L297.3 245.3 L297.6 244.6 L298.0 244.0 L298.3 243.4 L298.6 242.8 L299.0 242.2 L299.3 241.6 L299.6 240.9 L300.0 240.3 L300.3 239.7 L300.6 239.1 L300.9 238.5 L301.3 237.8 L301.6 237.2 L301.9 236.6 L302.3 236.0 L302.6 235.4 L303.0 234.8 L303.3 234.2 L303.6 233.5 L304.0 232.9 L304.3 232.3 L304.6 231.7 L305.0 231.1 L305.3 230.5 L305.7 229.9 L306.0 229.3 L306.3 228.6 L306.7 228.0 L307.0 227.4 L307.4 226.8 L307.7 226.2 L308.0 225.6 L308.4 225.0 L308.7 224.4 L309.0 223.7 L309.4 223.1 L309.7 222.5 L310.1 221.9 L310.4 221.3 L310.7 220.7 L311.1 220.1 L311.4 219.4 L311.7 218.8 L312.1 218.2 L312.4 217.6 L312.8 217.0 L313.1 216.4 L313.4 215.8 L313.8 215.2 L314.1 214.5 L314.4 213.9 L314.8 213.3 L315.1 212.7 L315.5 212.1 L315.8 211.5 L316.1 210.9 L316.5 210.2 L316.8 209.6 L317.2 209.0 L317.5 208.4 L317.8 207.8 L318.2 207.2 L318.5 206.6 L318.8 206.0 L319.2 205.3 L319.5 204.7 L319.9 204.1 L320.2 203.5 L320.5 202.9 L320.9 202.3 L321.2 201.7 L321.5 201.1 L321.9 200.4 L322.2 199.8 L322.6 199.2 L322.9 198.6 L323.2 198.0 L323.6 197.4 L323.9 196.8 L324.2 196.1 L324.6 195.5 L324.9 194.9 L325.3 194.3 L325.6 193.7 L325.9 193.1 L326.3 192.5 L326.6 191.9 L327.0 191.2 L327.3 190.6 L327.6 190.0 L328.0 189.4 L328.3 188.8 L328.6 188.2 L329.0 187.6 L329.3 187.0 L329.7 186.3 L330.0 185.7 L330.3 185.1 L330.7 184.5 L331.0 183.9 L331.4 183.3 L331.7 182.7 L332.0 182.0 L332.4 181.4 L332.7 180.8 L333.0 180.2 L333.4 179.6 L333.7 179.0 L334.1 178.4 L334.4 177.8 L334.7 177.1 L335.1 176.5 L335.4 175.9 L335.8 175.3 L336.1 174.7 L336.4 174.1 L336.8 173.5 L337.1 172.9 L337.4 172.2 L337.8 171.6 L338.1 171.0 L338.5 170.4 L338.8 169.8 L339.1 169.2 L339.5 168.6 L339.8 168.0 L340.2 167.3 L340.5 166.7 L340.8 166.1 L341.2 165.5 L341.5 164.9 L341.9 164.3 L342.2 163.7 L342.5 163.1 L342.9 162.4 L343.2 161.8 L343.5 161.2 L343.9 160.6 L344.2 160.0 L344.6 159.4 L344.9 158.8 L345.2 158.2 L345.6 157.5 L345.9 156.9 L346.3 156.3 L346.6 155.7 L346.9 155.1 L347.3 154.5 L347.6 153.9 L348.0 153.3 L348.3 152.6 L348.6 152.0 L349.0 151.4 L349.3 150.8 L349.7 150.2 L350.0 149.6 L350.3 149.0 L350.7 148.4 L351.0 147.7 L351.4 147.1 L351.7 146.5 L352.0 145.9 L352.4 145.3 L352.7 144.7 L353.1 144.1 L353.4 143.5 L353.7 142.9 L354.1 142.2 L354.4 141.6 L354.7 141.0 L355.1 140.4 L355.4 139.8 L355.8 139.2 L356.1 138.6 L356.4 138.0 L356.8 137.3 L357.1 136.7 L357.5 136.1 L357.8 135.5 L358.1 134.9 L358.5 134.3 L358.8 133.7 L359.2 133.1 L359.5 132.4 L359.8 131.8 L360.2 131.2 L360.5 130.6 L360.9 130.0 L361.2 129.4 L361.6 128.8 L361.9 128.2 L362.2 127.6 L362.6 126.9 L362.9 126.3 L363.3 125.7 L363.6 125.1 L363.9 124.5 L364.3 123.9 L364.6 123.3 L365.0 122.7 L365.3 122.0 L365.6 121.4 L366.0 120.8 L366.3 120.2 L366.7 119.6 L367.0 119.0 L367.4 118.4 L367.7 117.8 L368.0 117.2 L368.4 116.6 L368.7 115.9 L369.1 115.3 L369.4 114.7 L369.7 114.1 L370.1 113.5 L370.4 112.9 L370.8 112.3 L371.1 111.7 L371.5 111.1 L371.8 110.4 L372.1 109.8 L372.5 109.2 L372.8 108.6 L373.2 108.0 L373.5 107.4 L373.9 106.8 L374.2 106.2 L374.5 105.6 L374.9 104.9 L375.2 104.3 L375.6 103.7 L375.9 103.1 L376.3 102.5 L376.6 101.9 L376.9 101.3 L377.3 100.7 L377.6 100.1 L378.0 99.4 L378.3 98.8 L378.6 98.2 L379.0 97.6 L379.3 97.0 L379.7 96.4 L380.0 95.8 L380.4 95.2 L380.7 94.6 L381.1 94.0 L381.4 93.4 L381.8 92.7 L382.1 92.1 L382.5 91.5 L382.8 90.9 L383.2 90.3 L383.5 89.7 L383.9 89.1 L384.2 88.5 L384.6 87.9 L384.9 87.3 L385.3 86.7 L385.7 86.1 L386.0 85.5 L386.4 84.9 L386.7 84.3 L387.1 83.7 L387.5 83.1 L387.8 82.5 L388.2 81.9 L388.6 81.3 L388.9 80.7 L389.3 80.1 L389.7 79.6 L390.1 79.0 L390.4 78.4 L390.8 77.8 L391.2 77.2 L391.6 76.6 L391.9 76.0 L392.3 75.4 L392.7 74.8 L393.1 74.2 L393.4 73.6 L393.8 73.0 L394.2 72.4 L394.5 71.8 L394.9 71.3 L395.3 70.7 L395.7 70.1 L396.1 69.5 L396.5 68.9 L396.9 68.4 L397.3 67.8 L397.7 67.2 L398.1 66.6 L398.5 66.1 L399.0 65.5 L399.4 65.0 L399.9 64.5 L400.4 64.0 L401.0 63.5 L401.6 63.3 L402.3 63.4 L403.0 63.5 L403.5 63.8 L403.9 64.4 L404.3 65.1 L404.6 65.8 L404.9 66.4 L405.2 67.0 L405.4 67.7 L405.6 68.4 L405.8 69.1 L406.0 69.7 L406.2 70.4 L406.4 71.1 L406.5 71.8 L406.7 72.4 L406.8 73.1 L407.0 73.8 L407.1 74.5 L407.2 75.2 L407.3 75.9 L407.4 76.6 L407.5 77.3 L407.6 78.0 L407.7 78.7 L407.8 79.3 L407.9 80.0 L408.0 80.7 L408.1 81.4 L408.2 82.1 L408.3 82.8 L408.4 83.5 L408.5 84.2 L408.6 84.9 L408.7 85.6 L408.7 86.3 L408.8 87.0 L408.9 87.7 L409.0 88.4 L409.1 89.1 L409.2 89.8 L409.2 90.5 L409.3 91.2 L409.4 91.9 L409.5 92.6 L409.5 93.2 L409.6 93.9 L409.7 94.6 L409.8 95.3 L409.8 96.0 L409.9 96.7 L410.0 97.4 L410.1 98.1 L410.1 98.8 L410.2 99.5 L410.3 100.2 L410.3 100.9 L410.4 101.6 L410.5 102.3 L410.6 103.0 L410.6 103.7 L410.7 104.4 L410.8 105.1 L410.8 105.8 L410.9 106.5 L410.9 107.2 L411.0 107.9 L411.1 108.6 L411.1 109.3 L411.2 110.0 L411.2 110.7 L411.3 111.4 L411.4 112.1 L411.4 112.8 L411.5 113.5 L411.5 114.2 L411.6 114.9 L411.6 115.6 L411.7 116.2 L411.7 116.9 L411.8 117.6 L411.9 118.3 L411.9 119.0 L412.0 119.7 L412.0 120.4 L412.1 121.1 L412.1 121.8 L412.2 122.5 L412.2 123.2 L412.3 123.9 L412.3 124.6 L412.3 125.3 L412.4 126.0 L412.4 126.7 L412.5 127.4 L412.5 128.1 L412.6 128.8 L412.6 129.5 L412.6 130.2 L412.7 130.9 L412.7 131.6 L412.8 132.3 L412.8 133.0 L412.8 133.7 L412.9 134.4 L412.9 135.1 L412.9 135.8 L413.0 136.5 L413.0 137.2 L413.0 137.9 L413.1 138.6 L413.1 139.3 L413.1 140.0 L413.2 140.7 L413.2 141.4 L413.2 142.1 L413.3 142.8 L413.3 143.5 L413.3 144.2 L413.3 144.9 L413.4 145.6 L413.4 146.3 L413.4 147.0 L413.5 147.7 L413.5 148.4 L413.5 149.1 L413.5 149.8 L413.6 150.5 L413.6 151.2 L413.6 151.9 L413.6 152.6 L413.7 153.3 L413.7 154.0 L413.7 154.7 L413.8 155.4 L413.8 156.1 L413.8 156.8 L413.8 157.5 L413.9 158.2 L413.9 158.9 L413.9 159.6 L413.9 160.3 L413.9 161.0 L414.0 161.7 L414.0 162.4 L414.0 163.1 L414.0 163.8 L414.1 164.5 L414.1 165.2 L414.1 165.9 L414.1 166.6 L414.2 167.3 L414.2 168.0 L414.2 168.7 L414.2 169.4 L414.3 170.1 L414.3 170.8 L414.3 171.5 L414.3 172.2 L414.4 172.9 L414.4 173.6 L414.4 174.3 L414.4 175.0 L414.4 175.7 L414.5 176.4 L414.5 177.1 L414.5 177.8 L414.5 178.5 L414.6 179.2 L414.6 179.9 L414.6 180.6 L414.6 181.3 L414.7 182.0 L414.7 182.7 L414.7 183.4 L414.7 184.1 L414.8 184.8 L414.8 185.5 L414.8 186.2 L414.8 186.9 L414.9 187.6 L414.9 188.3 L414.9 189.0 L414.9 189.7 L415.0 190.4 L415.0 191.1 L415.0 191.8 L415.0 192.5 L415.1 193.2 L415.1 193.9 L415.1 194.6 L415.1 195.3 L415.2 196.0 L415.2 196.7 L415.2 197.4 L415.2 198.1 L415.3 198.8 L415.3 199.5 L415.3 200.2 L415.3 200.9 L415.4 201.6 L415.4 202.3 L415.4 203.0 L415.4 203.7 L415.4 204.4 L415.5 205.1 L415.5 205.8 L415.5 206.5 L415.5 207.2 L415.6 207.9 L415.6 208.6 L415.6 209.3 L415.6 210.0 L415.7 210.7 L415.7 211.4 L415.7 212.1 L415.7 212.8 L415.8 213.5 L415.8 214.2 L415.8 214.9 L415.8 215.6 L415.8 216.3 L415.9 217.0 L415.9 217.7 L415.9 218.4 L415.9 219.1 L416.0 219.8 L416.0 220.5 L416.0 221.2 L416.0 221.9 L416.1 222.6 L416.1 223.3 L416.1 224.0 L416.1 224.7 L416.1 225.4 L416.2 226.1 L416.2 226.8 L416.2 227.5 L416.2 228.2 L416.3 228.9 L416.3 229.6 L416.3 230.3 L416.3 231.0 L416.4 231.7 L416.4 232.4 L416.4 233.1 L416.4 233.8 L416.4 234.5 L416.5 235.2 L416.5 235.9 L416.5 236.6 L416.5 237.3 L416.6 238.0 L416.6 238.7 L416.6 239.4 L416.6 240.1 L416.6 240.8 L416.7 241.5 L416.7 242.2 L416.7 242.9 L416.7 243.6 L416.8 244.3 L416.8 245.0 L416.8 245.7 L416.8 246.4 L416.8 247.1 L416.9 247.8 L416.9 248.5 L416.9 249.2 L416.9 249.9 L417.0 250.6 L417.0 251.3 L417.0 252.0 L417.0 252.7 L417.0 253.4 L417.1 254.1 L417.1 254.8 L417.1 255.5 L417.1 256.2 L417.2 256.9 L417.2 257.6 L417.2 258.3 L417.2 259.0 L417.2 259.7 L417.3 260.4 L417.3 261.1 L417.3 261.8 L417.3 262.5 L417.4 263.2 L417.4 263.8 L417.4 264.5 L417.4 265.2 L417.4 265.9 L417.5 266.6 L417.5 267.3 L417.5 268.0 L417.5 268.7 L417.6 269.4 L417.6 270.1 L417.6 270.8 L417.6 271.5 L417.6 272.2 L417.7 272.9 L417.7 273.6 L417.7 274.3 L417.7 275.0 L417.8 275.7 L417.8 276.4 L417.8 277.1 L417.8 277.8 L417.8 278.5 L417.9 279.2 L417.9 279.9 L417.9 280.6 L417.9 281.3 L418.0 282.0 L418.0 282.7 L418.0 283.4 L418.0 284.1 L418.1 284.8 L418.1 285.5 L418.1 286.2 L418.1 286.9 L418.1 287.6 L418.2 288.3 L418.2 289.0 L418.2 289.7 L418.2 290.4 L418.3 291.1 L418.3 291.8 L418.3 292.5 L418.3 293.2 L418.3 293.9 L418.4 294.6 L418.4 295.3 L418.4 296.0 L418.4 296.7 L418.5 297.4 L418.5 298.1 L418.5 298.8 L418.5 299.5 L418.5 300.2 L418.6 300.9 L418.6 301.6 L418.6 302.3 L418.6 303.0 L418.7 303.7 L418.7 304.4 L418.7 305.1 L418.7 305.8 L418.8 306.5 L418.8 307.2 L418.8 307.9 L418.8 308.6 L418.8 309.3 L418.9 310.0 L418.9 310.7 L418.9 311.4 L418.9 312.1 L419.0 312.8 L419.0 313.5 L419.0 314.2 L419.0 314.9 L419.1 315.6 L419.1 316.3 L419.1 317.0 L419.1 317.7 L419.1 318.4 L419.2 319.1 L419.2 319.8 L419.2 320.5 L419.2 321.2 L419.3 321.9 L419.3 322.6 L419.3 323.3 L419.3 324.0 L419.4 324.7 L419.4 325.4 L419.4 326.1 L419.4 326.8 L419.4 327.5 L419.5 328.2 L419.5 328.9 L419.5 329.6 L419.5 330.3 L419.6 331.0 L419.6 331.7 L419.6 332.4 L419.6 333.1 L419.6 333.8 L419.7 334.5 L419.7 335.2 L419.7 335.9 L419.7 336.6 L419.8 337.3 L419.8 338.0 L419.8 338.7 L419.8 339.4 L419.8 340.1 L419.9 340.8 L419.9 341.5 L419.9 342.2 L419.9 342.9 L419.9 343.6 L420.0 344.3 L420.0 345.0 L420.0 345.7 L420.0 346.4 L420.1 347.1 L420.1 347.8 L420.1 348.5 L420.1 349.2 L420.1 349.9 L420.2 350.6 L420.2 351.3 L420.2 352.0 L420.2 352.7 L420.2 353.4 L420.3 354.1 L420.3 354.8 L420.3 355.5 L420.3 356.2 L420.3 356.9 L420.4 357.6 L420.4 358.3 L420.4 359.0 L420.4 359.7 L420.4 360.4 L420.5 361.1 L420.5 361.8 L420.5 362.5 L420.5 363.2 L420.5 363.9 L420.6 364.6 L420.6 365.3 L420.6 366.0 L420.6 366.7 L420.6 367.4 L420.7 368.1 L420.7 368.8 L420.7 369.5 L420.7 370.2 L420.7 370.9 L420.8 371.6 L420.8 372.3 L420.8 373.0 L420.8 373.7 L420.9 374.4 L420.9 375.1 L420.9 375.8 L420.9 376.5 L420.9 377.2 L421.0 377.9 L421.0 378.6 L421.0 379.3 L421.0 380.0 L421.0 380.7 L421.1 381.4 L421.1 382.1 L421.1 382.8 L421.1 383.5 L421.1 384.2 L421.2 384.9 L421.2 385.6 L421.2 386.3 L421.2 387.0 L421.2 387.7 L421.3 388.4 L421.3 389.1 L421.3 389.8 L421.3 390.5 L421.4 391.2 L421.4 391.9 L421.4 392.6 L421.4 393.3 L421.4 394.0 L421.5 394.7 L421.5 395.4 L421.5 396.1 L421.5 396.8 L421.6 397.5 L421.6 398.2 L421.6 398.9 L421.6 399.6 L421.6 400.3 L421.7 401.0 L421.7 401.7 L421.7 402.4 L421.7 403.1 L421.8 403.8 L421.8 404.5 L421.8 405.2 L421.8 405.9 L421.8 406.6 L421.9 407.3 L421.9 408.0 L421.9 408.7 L421.9 409.4 L422.0 410.1 L422.0 410.8 L422.0 411.5 L422.0 412.2 L422.1 412.9 L422.1 413.6 L422.1 414.3 L422.1 415.0 L422.2 415.7 L422.2 416.4 L422.2 417.1 L422.2 417.8 L422.3 418.5 L422.3 419.2 L422.3 419.9 L422.3 420.6 L422.4 421.3 L422.4 422.0 L422.4 422.7 L422.4 423.4 L422.5 424.1 L422.5 424.8 L422.5 425.5 L422.5 426.2 L422.6 426.9 L422.6 427.6 L422.6 428.3 L422.6 429.0 L422.7 429.7 L422.7 430.4 L422.7 431.1 L422.8 431.8 L422.8 432.5 L422.8 433.2 L422.8 433.9 L422.9 434.6 L422.9 435.3 L422.9 436.0 L422.9 436.7 L423.0 437.4 L423.0 438.1 L423.0 438.8 L423.1 439.5 L423.1 440.2 L423.1 440.9 L423.2 441.6 L423.2 442.3 L423.2 443.0 L423.2 443.7 L423.3 444.4 L423.3 445.1 L423.3 445.8 L423.4 446.5 L423.4 447.2 L423.4 447.9 L423.5 448.6 L423.5 449.3 L423.5 450.0 L423.6 450.7 L423.6 451.4 L423.6 452.1 L423.7 452.8 L423.7 453.5 L423.7 454.2 L423.8 454.9 L423.8 455.6 L423.8 456.3 L423.9 457.0 L423.9 457.7 L423.9 458.4 L424.0 459.1 L424.0 459.8 L424.0 460.5 L424.1 461.2 L424.1 461.9 L424.1 462.6 L424.2 463.3 L424.2 464.0 L424.3 464.7 L424.3 465.4 L424.3 466.1 L424.4 466.7 L424.4 467.4 L424.5 468.1 L424.5 468.8 L424.6 469.5 L424.6 470.2 L424.7 470.9 L424.7 471.6 L424.7 472.3 L424.8 473.0 L424.8 473.7 L424.9 474.4 L424.9 475.1 L425.0 475.8 L425.0 476.5 L425.1 477.2 L425.2 477.9 L425.2 478.6 L425.3 479.3 L425.3 480.0 L425.4 480.7 L425.4 481.4 L425.5 482.1 L425.5 482.8 L425.6 483.5 L425.6 484.2 L425.7 484.9 L425.8 485.6 L425.8 486.3 L425.9 487.0 L425.9 487.7 L426.0 488.4 L426.0 489.1 L426.1 489.8 L426.1 490.5 L426.2 491.2 L426.3 491.9 L426.3 492.6 L426.4 493.3 L426.4 494.0 L426.5 494.7 L426.5 495.4 L426.6 496.1 L426.7 496.8 L426.7 497.5 L426.8 498.2 L426.8 498.9 L426.9 499.6 L427.0 500.3 L427.0 501.0 L427.1 501.7 L427.2 502.3 L427.2 503.0 L427.3 503.7 L427.4 504.4 L427.4 505.1 L427.5 505.8 L427.6 506.5 L427.6 507.2 L427.7 507.9 L427.8 508.6 L427.8 509.3 L427.9 510.0 L428.0 510.7 L428.0 511.4 L428.1 512.1 L428.2 512.8 L428.3 513.5 L428.3 514.2 L428.4 514.9 L428.5 515.6 L428.5 516.3 L428.6 517.0 L428.7 517.7 L428.8 518.4 L428.8 519.1 L428.9 519.8 L429.0 520.5 L429.1 521.2 L429.1 521.9 L429.2 522.6 L429.3 523.2 L429.4 523.9 L429.5 524.6 L429.6 525.3 L429.7 526.0 L429.8 526.7 L429.9 527.4 L430.0 528.1 L430.1 528.8 L430.2 529.5 L430.3 530.2 L430.4 530.9 L430.5 531.6 L430.6 532.3 L430.8 533.0 L430.9 533.6 L431.1 534.3 L431.2 535.0 L431.4 535.7 L431.5 536.4 L431.7 537.0 L431.9 537.7 L432.1 538.4 L432.3 539.1 L432.6 539.8 L432.9 540.4 L433.2 541.1 L433.5 541.7 L433.9 542.2 L434.4 542.7 L435.0 543.1 L435.7 543.4 L436.3 543.5 L436.9 543.2 L437.6 542.8 L438.1 542.4 L438.6 541.9 L439.0 541.4 L439.5 540.8 L439.9 540.2 L440.3 539.6 L440.7 539.0 L441.1 538.5 L441.5 537.9 L441.9 537.3 L442.2 536.7 L442.6 536.1 L443.0 535.5 L443.4 534.9 L443.7 534.3 L444.1 533.8 L444.5 533.2 L444.9 532.6 L445.2 532.0 L445.6 531.4 L446.0 530.8 L446.3 530.2 L446.7 529.6 L447.1 529.0 L447.5 528.4 L447.8 527.8 L448.2 527.2 L448.6 526.6 L448.9 526.0 L449.3 525.4 L449.7 524.8 L450.0 524.2 L450.4 523.6 L450.8 523.1 L451.1 522.5 L451.5 521.9 L451.9 521.3 L452.2 520.7 L452.6 520.1 L452.9 519.5 L453.3 518.9 L453.7 518.3 L454.0 517.7 L454.4 517.1 L454.7 516.5 L455.1 515.9 L455.5 515.3 L455.8 514.6 L456.2 514.0 L456.5 513.4 L456.9 512.8 L457.2 512.2 L457.6 511.6 L458.0 511.0 L458.3 510.4 L458.7 509.8 L459.0 509.2 L459.4 508.6 L459.7 508.0 L460.1 507.4 L460.4 506.8 L460.8 506.2 L461.1 505.6 L461.5 505.0 L461.8 504.4 L462.2 503.8 L462.5 503.2 L462.9 502.5 L463.2 501.9 L463.6 501.3 L463.9 500.7 L464.3 500.1 L464.6 499.5 L465.0 498.9 L465.3 498.3 L465.7 497.7 L466.0 497.1 L466.4 496.5 L466.7 495.9 L467.0 495.3 L467.4 494.6 L467.7 494.0 L468.1 493.4 L468.4 492.8 L468.8 492.2 L469.1 491.6 L469.4 491.0 L469.8 490.4 L470.1 489.8 L470.5 489.2 L470.8 488.5 L471.2 487.9 L471.5 487.3 L471.8 486.7 L472.2 486.1 L472.5 485.5 L472.8 484.9 L473.2 484.2 L473.5 483.6 L473.8 483.0 L474.2 482.4 L474.5 481.8 L474.8 481.2 L475.2 480.6 L475.5 479.9 L475.8 479.3 L476.2 478.7 L476.5 478.1 L476.8 477.5 L477.1 476.8 L477.5 476.2 L477.8 475.6 L478.1 475.0 L478.4 474.4 L478.8 473.7 L479.1 473.1 L479.4 472.5 L479.8 471.9 L480.1 471.3 L480.4 470.7 L480.7 470.0 L481.1 469.4 L481.4 468.8 L481.7 468.2 L482.0 467.6 L482.4 466.9 L482.7 466.3 L483.0 465.7 L483.4 465.1 L483.7 464.5 L484.0 463.8 L484.3 463.2 L484.7 462.6 L485.0 462.0 L485.3 461.4 L485.7 460.8 L486.0 460.1 L486.3 459.5 L486.7 458.9 L487.0 458.3 L487.3 457.7 L487.7 457.1 L488.0 456.4 L488.3 455.8 L488.6 455.2 L489.0 454.6 L489.3 454.0 L489.6 453.4 L490.0 452.7 L490.3 452.1 L490.6 451.5 L491.0 450.9 L491.3 450.3 L491.6 449.7 L492.0 449.0 L492.3 448.4 L492.6 447.8 L492.9 447.2 L493.3 446.6 L493.6 445.9 L493.9 445.3 L494.3 444.7 L494.6 444.1 L494.9 443.5 L495.3 442.9 L495.6 442.2 L495.9 441.6 L496.3 441.0 L496.6 440.4 L496.9 439.8 L497.2 439.2 L497.6 438.5 L497.9 437.9 L498.2 437.3 L498.6 436.7 L498.9 436.1 L499.2 435.5 L499.6 434.8 L499.9 434.2 L500.2 433.6 L500.6 433.0 L500.9 432.4 L501.2 431.8 L501.6 431.1 L501.9 430.5 L502.2 429.9 L502.5 429.3 L502.9 428.7 L503.2 428.1 L503.5 427.4 L503.9 426.8 L504.2 426.2 L504.5 425.6 L504.9 425.0 L505.2 424.4 L505.5 423.7 L505.9 423.1 L506.2 422.5 L506.5 421.9 L506.9 421.3 L507.2 420.7 L507.5 420.0 L507.8 419.4 L508.2 418.8 L508.5 418.2 L508.8 417.6 L509.2 417.0 L509.5 416.3 L509.8 415.7 L510.2 415.1 L510.5 414.5 L510.8 413.9 L511.1 413.2 L511.5 412.6 L511.8 412.0 L512.1 411.4 L512.4 410.8 L512.8 410.2 L513.1 409.5 L513.4 408.9 L513.8 408.3 L514.1 407.7 L514.4 407.1 L514.7 406.4 L515.1 405.8 L515.4 405.2 L515.7 404.6 L516.1 404.0 L516.4 403.3 L516.7 402.7 L517.0 402.1 L517.4 401.5 L517.7 400.9 L518.0 400.3 L518.4 399.6 L518.7 399.0 L519.0 398.4 L519.3 397.8 L519.7 397.2 L520.0 396.5 L520.3 395.9 L520.7 395.3 L521.0 394.7 L521.3 394.1 L521.7 393.5 L522.0 392.9 L522.3 392.2 L522.7 391.6 L523.0 391.0 L523.3 390.4 L523.7 389.8 L524.0 389.2 L524.3 388.6 L524.7 387.9 L525.0 387.3 L525.4 386.7 L525.7 386.1 L526.0 385.5 L526.4 384.9 L526.7 384.3 L527.1 383.7 L527.4 383.0 L527.8 382.4 L528.1 381.8 L528.4 381.2 L528.8 380.6 L529.1 380.0 L529.5 379.4 L529.8 378.8 L530.2 378.2 L530.5 377.6 L530.9 377.0 L531.2 376.4 L531.6 375.8 L531.9 375.1 L532.3 374.5 L532.6 373.9 L533.0 373.3 L533.3 372.7 L533.7 372.1 L534.0 371.5 L534.4 370.9 L534.8 370.3 L535.1 369.7 L535.5 369.1 L535.8 368.5 L536.2 367.9 L536.6 367.3 L536.9 366.7 L537.3 366.1 L537.6 365.5 L538.0 364.9 L538.4 364.3 L538.7 363.7 L539.1 363.1 L539.5 362.5 L539.8 361.9 L540.2 361.3 L540.6 360.7 L540.9 360.1 L541.3 359.5 L541.7 358.9 L542.0 358.3 L542.4 357.8 L542.8 357.2 L543.1 356.6 L543.5 356.0 L543.9 355.4 L544.3 354.8 L544.6 354.2 L545.0 353.6 L545.4 353.0 L545.8 352.4 L546.1 351.8 L546.5 351.2 L546.9 350.7 L547.3 350.1 L547.7 349.5 L548.1 348.9 L548.4 348.3 L548.8 347.7 L549.2 347.2 L549.6 346.6 L550.0 346.0 L550.4 345.4 L550.8 344.8 L551.2 344.3 L551.6 343.7 L552.0 343.1 L552.3 342.5 L552.7 341.9 L553.1 341.3 L553.5 340.7 L553.9 340.2 L554.3 339.6 L554.7 339.0 L555.1 338.4 L555.5 337.9 L555.9 337.3 L556.3 336.7 L556.7 336.1 L557.2 335.6 L557.6 335.0 L558.0 334.5 L558.4 333.9 L558.9 333.4 L559.3 332.8 L559.7 332.3 L560.2 331.8 L560.6 331.2 L561.1 330.7 L561.6 330.2 L562.0 329.7 L562.5 329.2 L563.0 328.6 L563.5 328.1 L564.0 327.6 L564.5 327.1 L565.0 326.6 L565.5 326.1 L566.0 325.6 L566.5 325.2 L567.0 324.7 L567.5 324.2 L568.0 323.7 L568.5 323.3 L569.1 322.8 L569.6 322.3 L570.1 321.9 L570.7 321.5 L571.2 321.0 L571.8 320.6 L572.3 320.2 L572.9 319.7 L573.5 319.3 L574.0 318.9 L574.6 318.5 L575.2 318.2 L575.8 317.8 L576.4 317.5 L577.0 317.1 L577.6 316.8 L578.3 316.5 L578.9 316.2 L579.5 315.8 L580.1 315.5 L580.8 315.2 L581.4 314.9 L582.0 314.6 L582.7 314.3 L583.3 314.0 L583.9 313.7 L584.6 313.5 L585.2 313.2 L585.9 312.9 L586.5 312.7 L587.2 312.4 L587.8 312.2 L588.5 311.9 L589.2 311.7 L589.8 311.5 L590.5 311.3 L591.2 311.0 L591.8 310.9 L592.5 310.7 L593.2 310.5 L593.8 310.3 L594.5 310.1 L595.2 309.9 L595.9 309.8 L596.6 309.6 L597.3 309.4 L597.9 309.3 L598.6 309.2 L599.3 309.0 L600.0 308.9 L600.7 308.8 L601.4 308.7 L602.1 308.6 L602.8 308.5 L603.5 308.4 L604.2 308.3 L604.8 308.2 L605.5 308.1 L606.2 308.0 L606.9 307.9 L607.6 307.9 L608.3 307.8 L609.0 307.7 L609.7 307.6 L610.4 307.6 L611.1 307.5 L611.8 307.4 L612.5 307.3 L613.2 307.3 L613.9 307.2 L614.6 307.1 L615.3 307.1 L616.0 307.0 L616.7 307.0 L617.4 306.9 L618.1 306.9 L618.8 306.8 L619.5 306.7 L620.2 306.7 L620.9 306.6 L621.6 306.6 L622.3 306.5 L623.0 306.5 L623.7 306.4 L624.4 306.3 L625.1 306.3 L625.8 306.2 L626.5 306.2 L627.2 306.1 L627.9 306.0 L628.6 306.0 L629.3 305.9 L630.0 305.9 L630.7 305.8 L631.4 305.8 L632.1 305.7 L632.8 305.7 L633.5 305.6 L634.2 305.6 L634.9 305.5 L635.5 305.5 L636.2 305.5 L636.9 305.5 L637.6 305.4 L638.3 305.4 L639.0 305.4 L639.7 305.4 L640.4 305.4 L641.1 305.4 L641.8 305.4 L642.5 305.5 L643.2 305.5 L643.9 305.6 L644.6 305.7 L645.3 305.7 L646.0 305.8 L646.7 305.9 L647.4 305.9 L648.1 306.0 L648.8 306.1 L649.5 306.2 L650.2 306.3 L650.9 306.4 L651.6 306.5 L652.3 306.7 L652.9 306.8 L653.6 306.9 L654.3 307.1 L655.0 307.2 L655.7 307.4 L656.4 307.6 L657.1 307.7 L657.7 307.9 L658.4 308.0 L659.1 308.2 L659.8 308.4 L660.5 308.5 L661.2 308.7 L661.8 308.8 L662.5 309.0 L663.2 309.2 L663.9 309.4 L664.5 309.6 L665.2 309.8 L665.9 309.9 L666.6 310.1 L667.3 310.2 L667.9 310.4 L668.6 310.5 L669.3 310.7 L670.0 310.8 L670.7 310.9 L671.4 311.0 L672.1 311.1 L672.8 311.2 L673.5 311.2 L674.2 311.3 L674.9 311.3 L675.6 311.3 L676.3 311.3 L677.0 311.4 L677.7 311.4 L678.4 311.4 L679.1 311.4 L679.8 311.4 L680.5 311.4 L681.2 311.4 L681.9 311.4 L682.6 311.3 L683.3 311.3 L684.0 311.2 L684.7 311.2 L685.4 311.1 L686.1 311.0 L686.8 311.0 L687.5 310.9 L688.2 310.8 L688.8 310.7 L689.5 310.6 L690.2 310.6 L690.9 310.5 L691.6 310.4 L692.3 310.3 L693.0 310.2 L693.7 310.1 L694.4 310.0 L695.1 309.9 L695.8 309.8 L696.5 309.7 L697.2 309.5 L697.9 309.4 L698.5 309.3 L699.2 309.2 L699.9 309.1 L700.6 309.0 L701.3 308.9 L702.0 308.8 L702.7 308.7 L703.4 308.6 L704.1 308.5 L704.8 308.4 L705.5 308.3 L706.2 308.2 L706.9 308.1 L707.6 308.0 L708.2 307.9 L708.9 307.8 L709.6 307.7 L710.3 307.7 L711.0 307.6 L711.7 307.5 L712.4 307.4 L713.1 307.3 L713.8 307.2 L714.5 307.2 L715.2 307.1 L715.9 307.0 L716.6 306.9 L717.3 306.9 L718.0 306.8 L718.7 306.7 L719.4 306.7 L720.1 306.6 L720.8 306.5 L721.5 306.5 L722.2 306.4 L722.9 306.3 L723.6 306.3 L724.3 306.2 L725.0 306.2 L725.7 306.1 L726.4 306.1 L727.1 306.0 L727.8 306.0 L728.4 305.9 L729.1 305.9 L729.8 305.8 L730.5 305.8 L731.2 305.7 L731.9 305.7 L732.6 305.6 L733.3 305.6 L734.0 305.5 L734.7 305.5 L735.4 305.4 L736.1 305.4 L736.8 305.3 L737.5 305.3 L738.2 305.2 L738.9 305.2 L739.6 305.1 L740.3 305.1 L741.0 305.0 L741.7 305.0 L742.4 305.0 L743.1 304.9 L743.8 304.9 L744.5 304.8 L745.2 304.8 L745.9 304.8 L746.6 304.7 L747.3 304.7 L748.0 304.7 L748.7 304.6 L749.4 304.6 L750.1 304.5 L750.8 304.5 L751.5 304.5 L752.2 304.4 L752.9 304.4 L753.6 304.3 L754.3 304.3 L755.0 304.3 L755.7 304.2 L756.4 304.2 L757.1 304.1 L757.8 304.1 L758.5 304.1 L759.2 304.0 L759.9 304.0 L760.6 303.9 L761.3 303.9 L762.0 303.8 L762.7 303.8 L763.4 303.8 L764.1 303.7 L764.8 303.7 L765.5 303.6 L766.2 303.5 L766.9 303.5 L767.6 303.4 L768.3 303.4 L769.0 303.3 L769.7 303.2 L770.4 303.2 L771.1 303.1 L771.8 303.0 L772.4 302.9 L773.1 302.8 L773.8 302.7 L774.5 302.6 L775.2 302.4 L775.9 302.3 L776.6 302.2 L777.3 302.0 L777.9 301.9 L778.6 301.7 L779.3 301.5 L780.0 301.3 L780.7 301.1 L781.3 300.9 L782.0 300.8 L782.7 300.6 L783.4 300.5 L784.1 300.4 L784.8 300.3 L785.5 300.2 L786.2 300.1 L786.9 300.0 L787.6 300.0 L788.3 299.9 L789.0 299.9 L789.7 299.8 L790.4 299.8 L791.1 299.8 L791.8 299.8 L792.5 299.8 L793.2 299.8 L793.9 299.8 L794.6 299.8 L795.3 299.8 L796.0 299.9 L796.7 299.9 L797.4 299.9 L798.1 299.9 L798.8 299.9 L799.5 300.0 L800.2 300.0 L800.9 300.0 L801.5 300.1 L802.2 300.2 L802.9 300.3 L803.6 300.4 L804.3 300.6 L805.0 300.8 L805.7 300.9 L806.3 301.1 L807.0 301.3 L807.7 301.4 L808.4 301.6 L809.1 301.7 L809.8 301.9 L810.4 302.0 L811.1 302.1 L811.8 302.3 L812.5 302.4 L813.2 302.5 L813.9 302.6 L814.6 302.7 L815.3 302.8 L816.0 302.9 L816.7 302.9 L817.4 303.0 L818.1 303.0 L818.8 303.1 L819.5 303.1 L820.2 303.1 L820.9 303.2 L821.6 303.2 L822.3 303.3 L823.0 303.3 L823.7 303.3 L824.4 303.4 L825.1 303.4 L825.8 303.4 L826.5 303.5 L827.2 303.5 L827.9 303.6 L828.6 303.6 L829.3 303.7 L830.0 303.7 L830.7 303.8 L831.4 303.9 L832.1 303.9 L832.7 304.0 L833.4 304.1 L834.1 304.1 L834.8 304.2 L835.5 304.3 L836.2 304.4 L836.9 304.5 L837.6 304.5 L838.3 304.6 L839.0 304.7 L839.7 304.8 L840.4 304.8 L841.1 304.8 L841.8 304.8 L842.5 304.7 L843.2 304.7 L843.9 304.6 L844.6 304.5 L845.3 304.4 L846.0 304.3 L846.7 304.2 L847.4 304.1 L848.1 304.0 L848.7 303.8 L849.4 303.6 L850.1 303.4 L850.8 303.3 L851.5 303.1 L852.2 303.0 L852.9 303.0 L853.5 303.0 L854.2 303.1 L854.9 303.2 L855.6 303.3 L856.3 303.4 L857.0 303.5 L857.7 303.6 L858.4 303.7 L859.1 303.8 L859.8 303.9 L860.5 304.1 L861.2 304.2 L861.8 304.4 L862.5 304.5 L863.2 304.6 L863.9 304.8 L864.6 304.9 L865.3 304.9 L866.0 305.0" stroke="#ff7f0e"/>
<path d="M258.0 276.4 L258.7 276.3 L259.4 276.2 L260.1 276.1 L260.8 276.0 L261.5 276.0 L262.2 275.9 L262.9 275.8 L263.6 275.7 L264.3 275.6 L264.9 275.5 L265.6 275.4 L266.3 275.3 L267.0 275.2 L267.7 275.1 L268.4 275.0 L269.1 274.8 L269.8 274.7 L270.5 274.6 L271.2 274.5 L271.9 274.4 L272.6 274.3 L273.2 274.2 L273.9 274.1 L274.6 274.0 L275.3 273.8 L276.0 273.7 L276.7 273.5 L277.4 273.3 L278.0 273.1 L278.6 272.7 L279.1 272.3 L279.6 271.7 L280.1 271.2 L280.5 270.7 L280.9 270.1 L281.3 269.5 L281.7 268.9 L282.1 268.3 L282.5 267.8 L282.9 267.2 L283.3 266.7 L283.8 266.1 L284.2 265.5 L284.6 264.9 L285.0 264.4 L285.4 263.8 L285.8 263.2 L286.2 262.6 L286.6 262.1 L286.9 261.5 L287.3 260.9 L287.7 260.3 L288.1 259.7 L288.5 259.1 L288.9 258.5 L289.2 258.0 L289.6 257.4 L290.0 256.8 L290.4 256.2 L290.8 255.6 L291.1 255.0 L291.5 254.5 L291.9 253.9 L292.3 253.3 L292.7 252.7 L293.1 252.1 L293.5 251.6 L293.9 251.0 L294.3 250.4 L294.6 249.8 L295.0 249.2 L295.4 248.6 L295.7 248.0 L296.1 247.4 L296.4 246.8 L296.7 246.2 L297.1 245.5 L297.4 244.9 L297.8 244.3 L298.1 243.7 L298.4 243.1 L298.8 242.5 L299.1 241.9 L299.4 241.2 L299.7 240.6 L300.1 240.0 L300.4 239.4 L300.7 238.8 L301.1 238.1 L301.4 237.5 L301.7 236.9 L302.1 236.3 L302.4 235.7 L302.7 235.1 L303.1 234.5 L303.4 233.8 L303.8 233.2 L304.1 232.6 L304.4 232.0 L304.8 231.4 L305.1 230.8 L305.4 230.2 L305.8 229.5 L306.1 228.9 L306.5 228.3 L306.8 227.7 L307.1 227.1 L307.5 226.5 L307.8 225.9 L308.2 225.3 L308.5 224.6 L308.8 224.0 L309.2 223.4 L309.5 222.8 L309.8 222.2 L310.2 221.6 L310.5 221.0 L310.9 220.4 L311.2 219.7 L311.5 219.1 L311.9 218.5 L312.2 217.9 L312.5 217.3 L312.9 216.7 L313.2 216.1 L313.6 215.4 L313.9 214.8 L314.2 214.2 L314.6 213.6 L314.9 213.0 L315.2 212.4 L315.6 211.8 L315.9 211.2 L316.3 210.5 L316.6 209.9 L316.9 209.3 L317.3 208.7 L317.6 208.1 L318.0 207.5 L318.3 206.9 L318.6 206.2 L319.0 205.6 L319.3 205.0 L319.6 204.4 L320.0 203.8 L320.3 203.2 L320.7 202.6 L321.0 202.0 L321.3 201.3 L321.7 200.7 L322.0 200.1 L322.3 199.5 L322.7 198.9 L323.0 198.3 L323.4 197.7 L323.7 197.1 L324.0 196.4 L324.4 195.8 L324.7 195.2 L325.0 194.6 L325.4 194.0 L325.7 193.4 L326.1 192.8 L326.4 192.1 L326.7 191.5 L327.1 190.9 L327.4 190.3 L327.8 189.7 L328.1 189.1 L328.4 188.5 L328.8 187.9 L329.1 187.2 L329.4 186.6 L329.8 186.0 L330.1 185.4 L330.5 184.8 L330.8 184.2 L331.1 183.6 L331.5 183.0 L331.8 182.3 L332.2 181.7 L332.5 181.1 L332.8 180.5 L333.2 179.9 L333.5 179.3 L333.8 178.7 L334.2 178.0 L334.5 177.4 L334.9 176.8 L335.2 176.2 L335.5 175.6 L335.9 175.0 L336.2 174.4 L336.6 173.8 L336.9 173.1 L337.2 172.5 L337.6 171.9 L337.9 171.3 L338.2 170.7 L338.6 170.1 L338.9 169.5 L339.3 168.9 L339.6 168.2 L339.9 167.6 L340.3 167.0 L340.6 166.4 L341.0 165.8 L341.3 165.2 L341.6 164.6 L342.0 164.0 L342.3 163.3 L342.7 162.7 L343.0 162.1 L343.3 161.5 L343.7 160.9 L344.0 160.3 L344.4 159.7 L344.7 159.1 L345.0 158.4 L345.4 157.8 L345.7 157.2 L346.0 156.6 L346.4 156.0 L346.7 155.4 L347.1 154.8 L347.4 154.2 L347.7 153.5 L348.1 152.9 L348.4 152.3 L348.8 151.7 L349.1 151.1 L349.4 150.5 L349.8 149.9 L350.1 149.3 L350.5 148.7 L350.8 148.0 L351.1 147.4 L351.5 146.8 L351.8 146.2 L352.2 145.6 L352.5 145.0 L352.8 144.4 L353.2 143.8 L353.5 143.1 L353.9 142.5 L354.2 141.9 L354.5 141.3 L354.9 140.7 L355.2 140.1 L355.6 139.5 L355.9 138.9 L356.2 138.2 L356.6 137.6 L356.9 137.0 L357.3 136.4 L357.6 135.8 L357.9 135.2 L358.3 134.6 L358.6 134.0 L359.0 133.3 L359.3 132.7 L359.6 132.1 L360.0 131.5 L360.3 130.9 L360.7 130.3 L361.0 129.7 L361.3 129.1 L361.7 128.5 L362.0 127.8 L362.4 127.2 L362.7 126.6 L363.0 126.0 L363.4 125.4 L363.7 124.8 L364.1 124.2 L364.4 123.6 L364.8 123.0 L365.1 122.3 L365.4 121.7 L365.8 121.1 L366.1 120.5 L366.5 119.9 L366.8 119.3 L367.1 118.7 L367.5 118.1 L367.8 117.5 L368.2 116.8 L368.5 116.2 L368.8 115.6 L369.2 115.0 L369.5 114.4 L369.9 113.8 L370.2 113.2 L370.6 112.6 L370.9 112.0 L371.2 111.3 L371.6 110.7 L371.9 110.1 L372.3 109.5 L372.6 108.9 L373.0 108.3 L373.3 107.7 L373.6 107.1 L374.0 106.5 L374.3 105.8 L374.7 105.2 L375.0 104.6 L375.3 104.0 L375.7 103.4 L376.0 102.8 L376.4 102.2 L376.7 101.6 L377.1 101.0 L377.4 100.3 L377.7 99.7 L378.1 99.1 L378.4 98.5 L378.8 97.9 L379.1 97.3 L379.4 96.7 L379.8 96.1 L380.1 95.5 L380.5 94.8 L380.8 94.2 L381.2 93.6 L381.5 93.0 L381.9 92.4 L382.2 91.8 L382.6 91.2 L382.9 90.6 L383.3 90.0 L383.6 89.4 L384.0 88.8 L384.3 88.2 L384.7 87.6 L385.0 87.0 L385.4 86.4 L385.7 85.8 L386.1 85.2 L386.5 84.6 L386.8 84.0 L387.2 83.4 L387.5 82.8 L387.9 82.2 L388.3 81.6 L388.6 81.0 L389.0 80.4 L389.4 79.8 L389.7 79.2 L390.1 78.6 L390.5 78.0 L390.8 77.4 L391.2 76.8 L391.6 76.2 L391.9 75.6 L392.3 75.0 L392.7 74.4 L393.0 73.8 L393.4 73.2 L393.7 72.6 L394.1 72.0 L394.5 71.4 L394.8 70.8 L395.2 70.2 L395.5 69.6 L395.9 69.0 L396.3 68.4 L396.7 67.8 L397.0 67.2 L397.4 66.6 L397.8 66.0 L398.2 65.5 L398.6 64.9 L399.0 64.3 L399.4 63.7 L399.8 63.2 L400.3 62.6 L400.8 62.0 L401.3 61.5 L401.9 61.2 L402.5 61.2 L403.3 61.3 L403.8 61.4 L404.4 62.0 L404.8 62.6 L405.1 63.2 L405.4 63.9 L405.7 64.5 L405.9 65.2 L406.1 65.9 L406.3 66.5 L406.5 67.2 L406.7 67.9 L406.9 68.6 L407.1 69.2 L407.3 69.9 L407.4 70.6 L407.6 71.3 L407.7 72.0 L407.8 72.7 L407.9 73.3 L408.0 74.0 L408.1 74.7 L408.2 75.4 L408.3 76.1 L408.4 76.8 L408.5 77.5 L408.6 78.2 L408.7 78.9 L408.8 79.6 L408.9 80.3 L409.0 81.0 L409.1 81.7 L409.2 82.4 L409.3 83.1 L409.4 83.8 L409.5 84.5 L409.5 85.1 L409.6 85.8 L409.7 86.5 L409.8 87.2 L409.9 87.9 L410.0 88.6 L410.0 89.3 L410.1 90.0 L410.2 90.7 L410.2 91.4 L410.3 92.1 L410.4 92.8 L410.4 93.5 L410.5 94.2 L410.6 94.9 L410.6 95.6 L410.7 96.3 L410.8 97.0 L410.8 97.7 L410.9 98.4 L410.9 99.1 L411.0 99.8 L411.1 100.5 L411.1 101.2 L411.2 101.9 L411.2 102.6 L411.3 103.3 L411.3 104.0 L411.4 104.7 L411.4 105.4 L411.5 106.1 L411.6 106.8 L411.6 107.4 L411.7 108.1 L411.7 108.8 L411.8 109.5 L411.8 110.2 L411.9 110.9 L411.9 111.6 L412.0 112.3 L412.1 113.0 L412.1 113.7 L412.2 114.4 L412.2 115.1 L412.3 115.8 L412.3 116.5 L412.4 117.2 L412.4 117.9 L412.5 118.6 L412.5 119.3 L412.6 120.0 L412.6 120.7 L412.7 121.4 L412.7 122.1 L412.8 122.8 L412.8 123.5 L412.9 124.2 L412.9 124.9 L413.0 125.6 L413.0 126.3 L413.0 127.0 L413.1 127.7 L413.1 128.4 L413.2 129.1 L413.2 129.8 L413.2 130.5 L413.3 131.2 L413.3 131.9 L413.3 132.6 L413.4 133.3 L413.4 134.0 L413.4 134.7 L413.5 135.4 L413.5 136.1 L413.5 136.8 L413.5 137.5 L413.6 138.2 L413.6 138.9 L413.6 139.6 L413.7 140.3 L413.7 141.0 L413.7 141.7 L413.7 142.4 L413.8 143.1 L413.8 143.8 L413.8 144.5 L413.9 145.2 L413.9 145.9 L413.9 146.6 L413.9 147.3 L414.0 148.0 L414.0 148.7 L414.0 149.4 L414.0 150.1 L414.1 150.8 L414.1 151.5 L414.1 152.2 L414.1 152.9 L414.1 153.6 L414.2 154.3 L414.2 155.0 L414.2 155.7 L414.2 156.4 L414.3 157.1 L414.3 157.8 L414.3 158.5 L414.3 159.2 L414.4 159.9 L414.4 160.6 L414.4 161.3 L414.4 162.0 L414.4 162.7 L414.5 163.4 L414.5 164.1 L414.5 164.8 L414.5 165.5 L414.6 166.2 L414.6 166.9 L414.6 167.6 L414.6 168.3 L414.6 169.0 L414.7 169.7 L414.7 170.4 L414.7 171.1 L414.7 171.8 L414.7 172.5 L414.8 173.2 L414.8 173.9 L414.8 174.6 L414.8 175.3 L414.9 176.0 L414.9 176.7 L414.9 177.4 L414.9 178.1 L415.0 178.8 L415.0 179.5 L415.0 180.2 L415.0 180.9 L415.1 181.6 L415.1 182.3 L415.1 183.0 L415.1 183.7 L415.2 184.4 L415.2 185.1 L415.2 185.8 L415.2 186.5 L415.2 187.2 L415.3 187.9 L415.3 188.6 L415.3 189.3 L415.3 190.0 L415.4 190.7 L415.4 191.4 L415.4 192.1 L415.4 192.8 L415.5 193.5 L415.5 194.2 L415.5 194.9 L415.5 195.6 L415.6 196.3 L415.6 197.0 L415.6 197.7 L415.6 198.4 L415.6 199.1 L415.7 199.8 L415.7 200.5 L415.7 201.2 L415.7 201.9 L415.8 202.6 L415.8 203.3 L415.8 204.0 L415.8 204.7 L415.9 205.4 L415.9 206.1 L415.9 206.8 L415.9 207.5 L416.0 208.2 L416.0 208.9 L416.0 209.6 L416.0 210.3 L416.0 211.0 L416.1 211.7 L416.1 212.4 L416.1 213.1 L416.1 213.8 L416.2 214.5 L416.2 215.2 L416.2 215.9 L416.2 216.6 L416.3 217.3 L416.3 218.0 L416.3 218.7 L416.3 219.4 L416.3 220.1 L416.4 220.8 L416.4 221.5 L416.4 222.2 L416.4 222.9 L416.5 223.6 L416.5 224.3 L416.5 225.0 L416.5 225.7 L416.6 226.4 L416.6 227.1 L416.6 227.8 L416.6 228.5 L416.6 229.2 L416.7 229.9 L416.7 230.6 L416.7 231.3 L416.7 232.0 L416.8 232.7 L416.8 233.4 L416.8 234.1 L416.8 234.8 L416.8 235.5 L416.9 236.1 L416.9 236.8 L416.9 237.5 L416.9 238.2 L417.0 238.9 L417.0 239.6 L417.0 240.3 L417.0 241.0 L417.1 241.7 L417.1 242.4 L417.1 243.1 L417.1 243.8 L417.1 244.5 L417.2 245.2 L417.2 245.9 L417.2 246.6 L417.2 247.3 L417.3 248.0 L417.3 248.7 L417.3 249.4 L417.3 250.1 L417.3 250.8 L417.4 251.5 L417.4 252.2 L417.4 252.9 L417.4 253.6 L417.5 254.3 L417.5 255.0 L417.5 255.7 L417.5 256.4 L417.5 257.1 L417.6 257.8 L417.6 258.5 L417.6 259.2 L417.6 259.9 L417.7 260.6 L417.7 261.3 L417.7 262.0 L417.7 262.7 L417.8 263.4 L417.8 264.1 L417.8 264.8 L417.8 265.5 L417.8 266.2 L417.9 266.9 L417.9 267.6 L417.9 268.3 L417.9 269.0 L418.0 269.7 L418.0 270.4 L418.0 271.1 L418.0 271.8 L418.0 272.5 L418.1 273.2 L418.1 273.9 L418.1 274.6 L418.1 275.3 L418.2 276.0 L418.2 276.7 L418.2 277.4 L418.2 278.1 L418.2 278.8 L418.3 279.5 L418.3 280.2 L418.3 280.9 L418.3 281.6 L418.4 282.3 L418.4 283.0 L418.4 283.7 L418.4 284.4 L418.5 285.1 L418.5 285.8 L418.5 286.5 L418.5 287.2 L418.5 287.9 L418.6 288.6 L418.6 289.3 L418.6 290.0 L418.6 290.7 L418.7 291.4 L418.7 292.1 L418.7 292.8 L418.7 293.5 L418.7 294.2 L418.8 294.9 L418.8 295.6 L418.8 296.3 L418.8 297.0 L418.9 297.7 L418.9 298.4 L418.9 299.1 L418.9 299.8 L419.0 300.5 L419.0 301.2 L419.0 301.9 L419.0 302.6 L419.0 303.3 L419.1 304.0 L419.1 304.7 L419.1 305.4 L419.1 306.1 L419.2 306.8 L419.2 307.5 L419.2 308.2 L419.2 308.9 L419.3 309.6 L419.3 310.3 L419.3 311.0 L419.3 311.7 L419.3 312.4 L419.4 313.1 L419.4 313.8 L419.4 314.5 L419.4 315.2 L419.5 315.9 L419.5 316.6 L419.5 317.3 L419.5 318.0 L419.6 318.7 L419.6 319.4 L419.6 320.1 L419.6 320.8 L419.7 321.5 L419.7 322.2 L419.7 322.9 L419.7 323.6 L419.7 324.3 L419.8 325.0 L419.8 325.7 L419.8 326.4 L419.8 327.1 L419.9 327.8 L419.9 328.5 L419.9 329.2 L419.9 329.9 L419.9 330.6 L420.0 331.3 L420.0 332.0 L420.0 332.7 L420.0 333.4 L420.1 334.1 L420.1 334.8 L420.1 335.5 L420.1 336.2 L420.1 336.9 L420.2 337.6 L420.2 338.3 L420.2 339.0 L420.2 339.7 L420.2 340.4 L420.3 341.1 L420.3 341.8 L420.3 342.5 L420.3 343.2 L420.4 343.9 L420.4 344.6 L420.4 345.3 L420.4 346.0 L420.4 346.7 L420.5 347.4 L420.5 348.1 L420.5 348.8 L420.5 349.5 L420.5 350.2 L420.6 350.9 L420.6 351.6 L420.6 352.3 L420.6 353.0 L420.6 353.7 L420.7 354.4 L420.7 355.1 L420.7 355.8 L420.7 356.5 L420.7 357.2 L420.8 357.9 L420.8 358.6 L420.8 359.3 L420.8 360.0 L420.9 360.7 L420.9 361.4 L420.9 362.1 L420.9 362.8 L420.9 363.5 L421.0 364.2 L421.0 364.9 L421.0 365.6 L421.0 366.3 L421.0 367.0 L421.1 367.7 L421.1 368.4 L421.1 369.1 L421.1 369.8 L421.1 370.5 L421.2 371.2 L421.2 371.9 L421.2 372.6 L421.2 373.3 L421.2 374.0 L421.3 374.7 L421.3 375.4 L421.3 376.1 L421.3 376.8 L421.3 377.5 L421.4 378.2 L421.4 378.9 L421.4 379.6 L421.4 380.3 L421.4 381.0 L421.5 381.7 L421.5 382.4 L421.5 383.1 L421.5 383.8 L421.6 384.5 L421.6 385.2 L421.6 385.9 L421.6 386.6 L421.6 387.3 L421.7 388.0 L421.7 388.7 L421.7 389.4 L421.7 390.1 L421.7 390.8 L421.8 391.5 L421.8 392.2 L421.8 392.9 L421.8 393.6 L421.9 394.3 L421.9 395.0 L421.9 395.7 L421.9 396.4 L421.9 397.1 L422.0 397.8 L422.0 398.5 L422.0 399.2 L422.0 399.9 L422.0 400.6 L422.1 401.3 L422.1 402.0 L422.1 402.7 L422.1 403.4 L422.2 404.1 L422.2 404.8 L422.2 405.5 L422.2 406.2 L422.3 406.9 L422.3 407.6 L422.3 408.3 L422.3 409.0 L422.3 409.7 L422.4 410.4 L422.4 411.1 L422.4 411.8 L422.4 412.5 L422.5 413.2 L422.5 413.9 L422.5 414.6 L422.5 415.3 L422.6 416.0 L422.6 416.7 L422.6 417.4 L422.6 418.1 L422.7 418.8 L422.7 419.5 L422.7 420.2 L422.7 420.9 L422.8 421.6 L422.8 422.3 L422.8 423.0 L422.8 423.7 L422.9 424.4 L422.9 425.1 L422.9 425.8 L422.9 426.5 L423.0 427.2 L423.0 427.9 L423.0 428.6 L423.1 429.3 L423.1 430.0 L423.1 430.7 L423.1 431.4 L423.2 432.1 L423.2 432.8 L423.2 433.5 L423.2 434.2 L423.3 434.9 L423.3 435.6 L423.3 436.3 L423.4 437.0 L423.4 437.7 L423.4 438.4 L423.4 439.1 L423.5 439.8 L423.5 440.5 L423.5 441.2 L423.6 441.9 L423.6 442.6 L423.6 443.3 L423.7 444.0 L423.7 444.7 L423.7 445.4 L423.7 446.1 L423.8 446.8 L423.8 447.5 L423.8 448.2 L423.9 448.9 L423.9 449.6 L423.9 450.3 L424.0 451.0 L424.0 451.7 L424.0 452.4 L424.1 453.1 L424.1 453.8 L424.1 454.5 L424.2 455.2 L424.2 455.9 L424.2 456.6 L424.3 457.3 L424.3 458.0 L424.3 458.7 L424.4 459.4 L424.4 460.1 L424.4 460.8 L424.5 461.5 L424.5 462.2 L424.5 462.9 L424.6 463.6 L424.6 464.3 L424.7 464.9 L424.7 465.6 L424.8 466.3 L424.8 467.0 L424.8 467.7 L424.9 468.4 L424.9 469.1 L425.0 469.8 L425.0 470.5 L425.1 471.2 L425.1 471.9 L425.2 472.6 L425.2 473.3 L425.3 474.0 L425.3 474.7 L425.4 475.4 L425.4 476.1 L425.5 476.8 L425.5 477.5 L425.6 478.2 L425.6 478.9 L425.7 479.6 L425.7 480.3 L425.8 481.0 L425.8 481.7 L425.9 482.4 L426.0 483.1 L426.0 483.8 L426.1 484.5 L426.1 485.2 L426.2 485.9 L426.2 486.6 L426.3 487.3 L426.3 488.0 L426.4 488.7 L426.5 489.4 L426.5 490.1 L426.6 490.8 L426.6 491.5 L426.7 492.2 L426.7 492.9 L426.8 493.6 L426.8 494.3 L426.9 495.0 L427.0 495.7 L427.0 496.4 L427.1 497.1 L427.1 497.8 L427.2 498.5 L427.3 499.2 L427.3 499.9 L427.4 500.6 L427.5 501.2 L427.5 501.9 L427.6 502.6 L427.7 503.3 L427.7 504.0 L427.8 504.7 L427.8 505.4 L427.9 506.1 L428.0 506.8 L428.1 507.5 L428.1 508.2 L428.2 508.9 L428.3 509.6 L428.3 510.3 L428.4 511.0 L428.5 511.7 L428.5 512.4 L428.6 513.1 L428.7 513.8 L428.8 514.5 L428.8 515.2 L428.9 515.9 L429.0 516.6 L429.1 517.3 L429.1 518.0 L429.2 518.7 L429.3 519.4 L429.4 520.1 L429.4 520.8 L429.5 521.5 L429.6 522.1 L429.7 522.8 L429.8 523.5 L429.9 524.2 L429.9 524.9 L430.0 525.6 L430.1 526.3 L430.2 527.0 L430.3 527.7 L430.4 528.4 L430.5 529.1 L430.6 529.8 L430.7 530.5 L430.8 531.2 L430.9 531.9 L431.0 532.6 L431.1 533.3 L431.2 534.0 L431.4 534.7 L431.5 535.3 L431.7 536.0 L431.8 536.7 L432.1 537.5 L432.4 538.2 L432.7 538.5 L433.1 538.0 L433.5 537.3 L433.9 536.7 L434.2 536.1 L434.6 535.4 L434.9 534.8 L435.2 534.2 L435.6 533.6 L435.9 533.0 L436.2 532.4 L436.6 531.8 L436.9 531.1 L437.3 530.5 L437.6 529.9 L437.9 529.3 L438.3 528.7 L438.6 528.1 L439.0 527.5 L439.3 526.9 L439.7 526.3 L440.0 525.6 L440.3 525.0 L440.7 524.4 L441.0 523.8 L441.4 523.2 L441.7 522.6 L442.1 522.0 L442.4 521.4 L442.7 520.8 L443.1 520.2 L443.4 519.5 L443.8 518.9 L444.1 518.3 L444.5 517.7 L444.8 517.1 L445.1 516.5 L445.5 515.9 L445.8 515.3 L446.2 514.7 L446.5 514.1 L446.9 513.4 L447.2 512.8 L447.6 512.2 L447.9 511.6 L448.2 511.0 L448.6 510.4 L448.9 509.8 L449.3 509.2 L449.6 508.6 L450.0 508.0 L450.3 507.3 L450.6 506.7 L451.0 506.1 L451.3 505.5 L451.7 504.9 L452.0 504.3 L452.4 503.7 L452.7 503.1 L453.0 502.5 L453.4 501.9 L453.7 501.2 L454.1 500.6 L454.4 500.0 L454.8 499.4 L455.1 498.8 L455.4 498.2 L455.8 497.6 L456.1 497.0 L456.5 496.4 L456.8 495.7 L457.2 495.1 L457.5 494.5 L457.8 493.9 L458.2 493.3 L458.5 492.7 L458.9 492.1 L459.2 491.5 L459.5 490.9 L459.9 490.2 L460.2 489.6 L460.5 489.0 L460.9 488.4 L461.2 487.8 L461.6 487.2 L461.9 486.6 L462.2 485.9 L462.6 485.3 L462.9 484.7 L463.2 484.1 L463.6 483.5 L463.9 482.9 L464.3 482.3 L464.6 481.6 L464.9 481.0 L465.3 480.4 L465.6 479.8 L465.9 479.2 L466.3 478.6 L466.6 478.0 L466.9 477.3 L467.3 476.7 L467.6 476.1 L467.9 475.5 L468.3 474.9 L468.6 474.3 L468.9 473.7 L469.3 473.0 L469.6 472.4 L469.9 471.8 L470.3 471.2 L470.6 470.6 L470.9 470.0 L471.3 469.3 L471.6 468.7 L472.0 468.1 L472.3 467.5 L472.6 466.9 L473.0 466.3 L473.3 465.7 L473.6 465.0 L474.0 464.4 L474.3 463.8 L474.6 463.2 L474.9 462.6 L475.3 462.0 L475.6 461.3 L475.9 460.7 L476.3 460.1 L476.6 459.5 L476.9 458.9 L477.3 458.3 L477.6 457.7 L477.9 457.0 L478.3 456.4 L478.6 455.8 L478.9 455.2 L479.3 454.6 L479.6 454.0 L479.9 453.3 L480.3 452.7 L480.6 452.1 L480.9 451.5 L481.3 450.9 L481.6 450.3 L481.9 449.6 L482.3 449.0 L482.6 448.4 L482.9 447.8 L483.3 447.2 L483.6 446.6 L483.9 446.0 L484.3 445.3 L484.6 444.7 L484.9 444.1 L485.3 443.5 L485.6 442.9 L485.9 442.3 L486.3 441.6 L486.6 441.0 L486.9 440.4 L487.3 439.8 L487.6 439.2 L487.9 438.6 L488.3 437.9 L488.6 437.3 L488.9 436.7 L489.3 436.1 L489.6 435.5 L489.9 434.9 L490.3 434.3 L490.6 433.6 L490.9 433.0 L491.3 432.4 L491.6 431.8 L491.9 431.2 L492.3 430.6 L492.6 429.9 L492.9 429.3 L493.3 428.7 L493.6 428.1 L493.9 427.5 L494.3 426.9 L494.6 426.2 L494.9 425.6 L495.3 425.0 L495.6 424.4 L495.9 423.8 L496.3 423.2 L496.6 422.6 L496.9 421.9 L497.3 421.3 L497.6 420.7 L497.9 420.1 L498.3 419.5 L498.6 418.9 L499.0 418.3 L499.3 417.6 L499.6 417.0 L500.0 416.4 L500.3 415.8 L500.6 415.2 L501.0 414.6 L501.3 414.0 L501.6 413.3 L502.0 412.7 L502.3 412.1 L502.7 411.5 L503.0 410.9 L503.3 410.3 L503.7 409.7 L504.0 409.0 L504.3 408.4 L504.7 407.8 L505.0 407.2 L505.4 406.6 L505.7 406.0 L506.0 405.4 L506.4 404.8 L506.7 404.1 L507.0 403.5 L507.4 402.9 L507.7 402.3 L508.1 401.7 L508.4 401.1 L508.7 400.5 L509.1 399.8 L509.4 399.2 L509.8 398.6 L510.1 398.0 L510.4 397.4 L510.8 396.8 L511.1 396.2 L511.4 395.6 L511.8 394.9 L512.1 394.3 L512.5 393.7 L512.8 393.1 L513.1 392.5 L513.5 391.9 L513.8 391.3 L514.1 390.7 L514.5 390.0 L514.8 389.4 L515.2 388.8 L515.5 388.2 L515.8 387.6 L516.2 387.0 L516.5 386.4 L516.8 385.7 L517.2 385.1 L517.5 384.5 L517.9 383.9 L518.2 383.3 L518.5 382.7 L518.9 382.1 L519.2 381.4 L519.5 380.8 L519.9 380.2 L520.2 379.6 L520.6 379.0 L520.9 378.4 L521.2 377.8 L521.6 377.1 L521.9 376.5 L522.2 375.9 L522.6 375.3 L522.9 374.7 L523.2 374.1 L523.6 373.5 L523.9 372.8 L524.2 372.2 L524.6 371.6 L524.9 371.0 L525.2 370.4 L525.6 369.8 L525.9 369.1 L526.2 368.5 L526.6 367.9 L526.9 367.3 L527.2 366.7 L527.6 366.1 L527.9 365.5 L528.2 364.8 L528.6 364.2 L528.9 363.6 L529.2 363.0 L529.6 362.4 L529.9 361.8 L530.2 361.2 L530.6 360.5 L530.9 359.9 L531.3 359.3 L531.6 358.7 L531.9 358.1 L532.3 357.5 L532.6 356.9 L533.0 356.3 L533.3 355.7 L533.7 355.0 L534.0 354.4 L534.4 353.8 L534.7 353.2 L535.0 352.6 L535.4 352.0 L535.7 351.4 L536.1 350.8 L536.4 350.2 L536.8 349.6 L537.1 349.0 L537.5 348.4 L537.8 347.7 L538.2 347.1 L538.5 346.5 L538.9 345.9 L539.2 345.3 L539.6 344.7 L539.9 344.1 L540.3 343.5 L540.6 342.9 L541.0 342.3 L541.3 341.7 L541.7 341.1 L542.0 340.5 L542.4 339.9 L542.7 339.3 L543.1 338.7 L543.4 338.1 L543.8 337.5 L544.2 336.8 L544.5 336.2 L544.9 335.6 L545.2 335.0 L545.6 334.4 L545.9 333.8 L546.3 333.2 L546.6 332.6 L547.0 332.0 L547.3 331.4 L547.7 330.8 L548.1 330.2 L548.4 329.6 L548.8 329.0 L549.1 328.4 L549.5 327.8 L549.9 327.2 L550.2 326.6 L550.6 326.0 L551.0 325.4 L551.3 324.8 L551.7 324.2 L552.0 323.6 L552.4 323.0 L552.8 322.4 L553.1 321.8 L553.5 321.2 L553.9 320.6 L554.3 320.1 L554.7 319.5 L555.1 318.9 L555.5 318.3 L555.9 317.8 L556.3 317.2 L556.7 316.6 L557.1 316.0 L557.5 315.5 L558.0 314.9 L558.4 314.4 L558.8 313.8 L559.3 313.3 L559.7 312.8 L560.2 312.3 L560.7 311.8 L561.2 311.2 L561.7 310.7 L562.2 310.2 L562.7 309.8 L563.2 309.3 L563.8 308.8 L564.3 308.4 L564.9 308.1 L565.5 307.7 L566.1 307.4 L566.8 307.1 L567.4 306.8 L568.1 306.6 L568.8 306.4 L569.4 306.2 L570.1 306.1 L570.8 306.0 L571.5 306.1 L572.2 306.3 L572.9 306.5 L573.5 306.8 L574.1 307.2 L574.6 307.7 L575.1 308.1 L575.6 308.6 L576.1 309.1 L576.6 309.6 L577.0 310.2 L577.5 310.8 L577.9 311.3 L578.2 311.9 L578.6 312.6 L578.9 313.2 L579.2 313.8 L579.6 314.4 L580.2 314.9 L580.8 315.0 L581.4 314.6 L582.1 314.3 L582.7 314.0 L583.3 313.7 L584.0 313.4 L584.6 313.1 L585.2 312.8 L585.9 312.5 L586.5 312.3 L587.2 312.0 L587.8 311.8 L588.5 311.5 L589.1 311.3 L589.8 311.1 L590.5 310.9 L591.1 310.7 L591.8 310.5 L592.5 310.3 L593.2 310.1 L593.8 309.9 L594.5 309.7 L595.2 309.5 L595.9 309.4 L596.6 309.2 L597.3 309.0 L597.9 308.9 L598.6 308.8 L599.3 308.6 L600.0 308.5 L600.7 308.4 L601.4 308.3 L602.1 308.2 L602.8 308.1 L603.5 308.0 L604.1 307.9 L604.8 307.8 L605.5 307.7 L606.2 307.6 L606.9 307.5 L607.6 307.5 L608.3 307.4 L609.0 307.3 L609.7 307.2 L610.4 307.2 L611.1 307.1 L611.8 307.0 L612.5 306.9 L613.2 306.9 L613.9 306.8 L614.6 306.7 L615.3 306.7 L616.0 306.6 L616.7 306.6 L617.4 306.5 L618.1 306.5 L618.8 306.4 L619.5 306.3 L620.2 306.3 L620.9 306.2 L621.6 306.2 L622.3 306.1 L623.0 306.1 L623.7 306.0 L624.4 305.9 L625.1 305.9 L625.8 305.8 L626.5 305.8 L627.2 305.7 L627.9 305.6 L628.6 305.6 L629.3 305.5 L630.0 305.5 L630.7 305.4 L631.4 305.4 L632.1 305.3 L632.7 305.3 L633.4 305.2 L634.1 305.2 L634.8 305.1 L635.5 305.1 L636.2 305.1 L636.9 305.1 L637.6 305.0 L638.3 305.0 L639.0 305.0 L639.7 305.0 L640.4 305.0 L641.1 305.0 L641.8 305.0 L642.5 305.1 L643.2 305.1 L643.9 305.2 L644.6 305.3 L645.3 305.3 L646.0 305.4 L646.7 305.5 L647.4 305.5 L648.1 305.6 L648.8 305.7 L649.5 305.8 L650.2 305.9 L650.9 306.0 L651.6 306.1 L652.3 306.3 L652.9 306.4 L653.6 306.5 L654.3 306.7 L655.0 306.8 L655.7 307.0 L656.4 307.2 L657.1 307.3 L657.7 307.5 L658.4 307.6 L659.1 307.8 L659.8 308.0 L660.5 308.1 L661.1 308.3 L661.8 308.4 L662.5 308.6 L663.2 308.8 L663.9 309.0 L664.5 309.1 L665.2 309.3 L665.9 309.5 L666.6 309.7 L667.3 309.8 L667.9 310.0 L668.6 310.1 L669.3 310.3 L670.0 310.5 L670.7 310.7 L671.4 310.8 L672.1 310.8 L672.8 310.8 L673.4 310.6 L674.0 310.3 L674.6 309.9 L675.1 309.4 L675.7 308.9 L676.2 308.4 L676.6 307.9 L677.1 307.4 L677.6 306.9 L678.0 306.4 L678.5 305.8 L678.9 305.3 L679.4 304.7 L679.8 304.2 L680.3 303.6 L680.7 303.1 L681.2 302.6 L681.6 302.0 L682.1 301.5 L682.6 301.0 L683.1 300.5 L683.5 300.0 L684.0 299.5 L684.5 298.9 L685.0 298.4 L685.5 298.0 L686.0 297.5 L686.5 297.0 L687.1 296.6 L687.6 296.1 L688.1 295.6 L688.7 295.2 L689.2 294.7 L689.8 294.3 L690.4 293.9 L690.9 293.5 L691.5 293.2 L692.1 292.8 L692.7 292.5 L693.4 292.2 L694.0 291.8 L694.7 291.5 L695.3 291.3 L696.0 291.1 L696.6 290.9 L697.3 290.7 L698.0 290.5 L698.7 290.4 L699.4 290.2 L700.1 290.2 L700.8 290.1 L701.5 290.1 L702.2 290.1 L702.9 290.2 L703.6 290.2 L704.3 290.3 L705.0 290.4 L705.7 290.5 L706.3 290.5 L707.0 290.7 L707.7 290.8 L708.4 291.0 L709.1 291.2 L709.7 291.4 L710.4 291.5 L711.1 291.7 L711.8 291.9 L712.4 292.1 L713.1 292.3 L713.8 292.5 L714.5 292.7 L715.1 293.0 L715.8 293.2 L716.5 293.4 L717.1 293.6 L717.8 293.8 L718.5 294.0 L719.1 294.2 L719.8 294.4 L720.5 294.5 L721.2 294.7 L721.9 294.8 L722.5 295.0 L723.2 295.1 L723.9 295.2 L724.6 295.4 L725.3 295.5 L726.0 295.6 L726.7 295.8 L727.4 295.9 L728.0 296.0 L728.7 296.1 L729.4 296.2 L730.1 296.4 L730.8 296.5 L731.5 296.6 L732.2 296.7 L732.9 296.8 L733.6 296.9 L734.3 297.1 L735.0 297.2 L735.6 297.3 L736.3 297.4 L737.0 297.6 L737.7 297.7 L738.4 297.9 L739.1 298.0 L739.8 298.1 L740.4 298.3 L741.1 298.5 L741.8 298.7 L742.5 298.8 L743.1 299.0 L743.8 299.2 L744.5 299.4 L745.2 299.6 L745.9 299.8 L746.5 299.9 L747.2 300.0 L747.9 300.2 L748.6 300.3 L749.3 300.4 L750.0 300.5 L750.7 300.7 L751.4 300.8 L752.1 300.9 L752.8 300.9 L753.5 301.0 L754.2 301.0 L754.9 301.0 L755.6 301.0 L756.3 301.0 L757.0 301.0 L757.7 301.0 L758.4 301.0 L759.1 301.0 L759.8 301.0 L760.5 301.0 L761.2 301.0 L761.9 301.0 L762.6 301.0 L763.3 301.0 L764.0 301.0 L764.7 301.0 L765.4 301.0 L766.1 301.0 L766.8 301.0 L767.5 301.0 L768.2 301.0 L768.9 301.0 L769.6 301.0 L770.3 301.1 L771.0 301.1 L771.7 301.2 L772.4 301.3 L773.0 301.5 L773.7 301.6 L774.4 301.7 L775.1 301.8 L775.8 301.9 L776.5 302.0 L777.2 302.0 L777.9 302.0 L778.6 301.9 L779.3 301.8 L780.0 301.7 L780.7 301.5 L781.3 301.3 L782.0 301.2 L782.7 301.0 L783.4 300.9 L784.1 300.9 L784.8 300.8 L785.5 300.7 L786.2 300.6 L786.9 300.5 L787.6 300.4 L788.3 300.4 L789.0 300.3 L789.7 300.3 L790.4 300.3 L791.1 300.3 L791.8 300.3 L792.5 300.3 L793.2 300.3 L793.9 300.3 L794.6 300.3 L795.3 300.3 L796.0 300.3 L796.7 300.3 L797.4 300.3 L798.1 300.3 L798.8 300.3 L799.5 300.3 L800.2 300.3 L800.9 300.3 L801.6 300.2 L802.3 300.1 L803.0 300.0 L803.6 299.8 L804.3 299.6 L805.0 299.5 L805.7 299.4 L806.4 299.2 L807.1 299.1 L807.8 299.0 L808.4 299.0 L809.1 299.2 L809.7 299.6 L810.3 299.9 L810.9 300.4 L811.6 300.8 L812.2 301.1 L812.8 301.4 L813.4 301.8 L814.0 302.2 L814.7 302.5 L815.3 302.8 L815.9 303.1 L816.6 303.2 L817.3 303.3 L817.9 303.4 L818.6 303.5 L819.3 303.5 L820.0 303.6 L820.7 303.6 L821.4 303.7 L822.1 303.7 L822.8 303.8 L823.5 303.8 L824.2 303.9 L825.0 303.9 L825.7 303.9 L826.4 304.0 L827.1 304.0 L827.8 304.1 L828.5 304.1 L829.2 304.1 L829.9 304.2 L830.6 304.2 L831.3 304.2 L832.0 304.3 L832.7 304.3 L833.4 304.4 L834.1 304.4 L834.8 304.5 L835.4 304.5 L836.1 304.6 L836.8 304.7 L837.5 304.8 L838.2 304.8 L838.9 304.9 L839.6 305.0 L840.3 305.0 L841.0 305.0 L841.7 305.0 L842.4 304.9 L843.1 304.9 L843.8 304.8 L844.5 304.7 L845.2 304.6 L845.9 304.5 L846.6 304.5 L847.3 304.4 L848.0 304.2 L848.7 304.1 L849.4 304.0 L850.1 303.8 L850.8 303.7 L851.4 303.6 L852.1 303.5 L852.8 303.5 L853.5 303.5 L854.2 303.6 L854.9 303.6 L855.6 303.7 L856.3 303.8 L857.0 303.8 L857.7 303.9 L858.4 304.0 L859.1 304.1 L859.8 304.2 L860.5 304.3 L861.2 304.4 L861.9 304.6 L862.6 304.7 L863.2 304.8 L863.9 305.0 L864.6 305.1 L865.3 305.2 L866.0 305.3" stroke="#2ca02c"/>
</g>
<g clip-path="url(#ax)">
<rect x="407.915" y="37.5" width="4.17" height="537" fill="#000"/>
<rect x="709.915" y="37.5" width="4.17" height="537" fill="#000"/>
<line x1="345" y1="574.5" x2="345" y2="37.5" stroke="#1f77b4" stroke-width="4.17" stroke-dasharray="15.44 6.68"/>
<line x1="487" y1="574.5" x2="487" y2="37.5" stroke="#1f77b4" stroke-width="4.17" stroke-dasharray="15.44 6.68"/>
<line x1="648" y1="574.5" x2="648" y2="37.5" stroke="#1f77b4" stroke-width="4.17" stroke-dasharray="15.44 6.68"/>
</g>
<rect x="259.5" y="37.5" width="605" height="537" fill="none" stroke="#000" stroke-width="1.11"/>
<g stroke="#000" stroke-width="1.11">
<line x1="259.5" y1="574.5" x2="259.5" y2="579.36"/>
<line x1="410.5" y1="574.5" x2="410.5" y2="579.36"/>
<line x1="562.5" y1="574.5" x2="562.5" y2="579.36"/>
<line x1="713.5" y1="574.5" x2="713.5" y2="579.36"/>
<line x1="254.64" y1="51.5" x2="259.5" y2="51.5"/>
<line x1="254.64" y1="135.5" x2="259.5" y2="135.5"/>
<line x1="254.64" y1="219.5" x2="259.5" y2="219.5"/>
<line x1="254.64" y1="303.5" x2="259.5" y2="303.5"/>
<line x1="254.64" y1="387.5" x2="259.5" y2="387.5"/>
<line x1="254.64" y1="470.5" x2="259.5" y2="470.5"/>
<line x1="254.64" y1="554.5" x2="259.5" y2="554.5"/>
</g>
<g class="t25" text-anchor="middle">
<text x="259.00" y="610.10">−0.5</text>
<text x="410.29" y="610.10">0.0</text>
<text x="562.58" y="610.10">0.5</text>
<text x="713.86" y="610.10">1.0</text>
</g>
<g class="t25" text-anchor="end">
<text x="249.28" y="64.70">1500</text>
<text x="249.28" y="148.58">1000</text>
<text x="249.28" y="233.05">500</text>
<text x="247.98" y="317.34">0</text>
<text x="248.28" y="401.22">−500</text>
<text x="248.28" y="484.10">−1000</text>
<text x="248.28" y="567.98">−1500</text>
</g>
<text class="t30" transform="translate(472.80 657.00)">
<tspan x="0.00" y="-0.33">E</tspan>
<tspan x="26.33" y="-0.33">-</tspan>
<tspan x="41.36" y="-0.33">E</tspan>
<tspan class="t21" x="68.09" y="6.51">f</tspan>
<tspan x="92.74" y="-0.33">(</tspan>
<tspan x="108.99" y="-0.33">e</tspan>
<tspan x="134.63" y="-0.33">V</tspan>
<tspan x="163.13" y="-0.33">)</tspan>
</text>
<text class="t30" transform="translate(63.30 401.60) rotate(-90) scale(1 1.05)">Seebeck</text>
<text class="t30" transform="translate(113.90 484.00) rotate(-90) scale(1 1.05)">
<tspan x="0" y="0">coefficient</tspan>
<tspan x="244.30" y="0">(</tspan>
<tspan class="ob" x="260.56" y="0">μ</tspan>
<tspan x="287.07" y="0">V/K)</tspan>
</text>
<rect x="489.60" y="52.30" width="143.56" height="148.30" rx="6.1" ry="6.1" fill="#fff" fill-opacity="0.8" stroke="#ccc" stroke-opacity="0.8" stroke-width="1.39"/>
<rect x="500.00" y="75.00" width="65.20" height="4" fill="#1f77b4"/>
<text class="t22" transform="translate(587.80 87.70)"><tspan x="0" y="-0.93">S</tspan><tspan class="t15" x="19.29" y="4.08">1</tspan></text>
<rect x="500.00" y="122.00" width="65.20" height="4" fill="#ff7f0e"/>
<text class="t22" transform="translate(587.80 134.60)"><tspan x="0" y="-0.93">S</tspan><tspan class="t15" x="19.29" y="4.08">2</tspan></text>
<rect x="500.00" y="168.00" width="65.20" height="4" fill="#2ca02c"/>
<text class="t22" transform="translate(587.80 180.90)"><tspan x="0" y="-0.93">S</tspan><tspan class="t15" x="19.29" y="4.08">3</tspan></text>
</svg></body></html>
